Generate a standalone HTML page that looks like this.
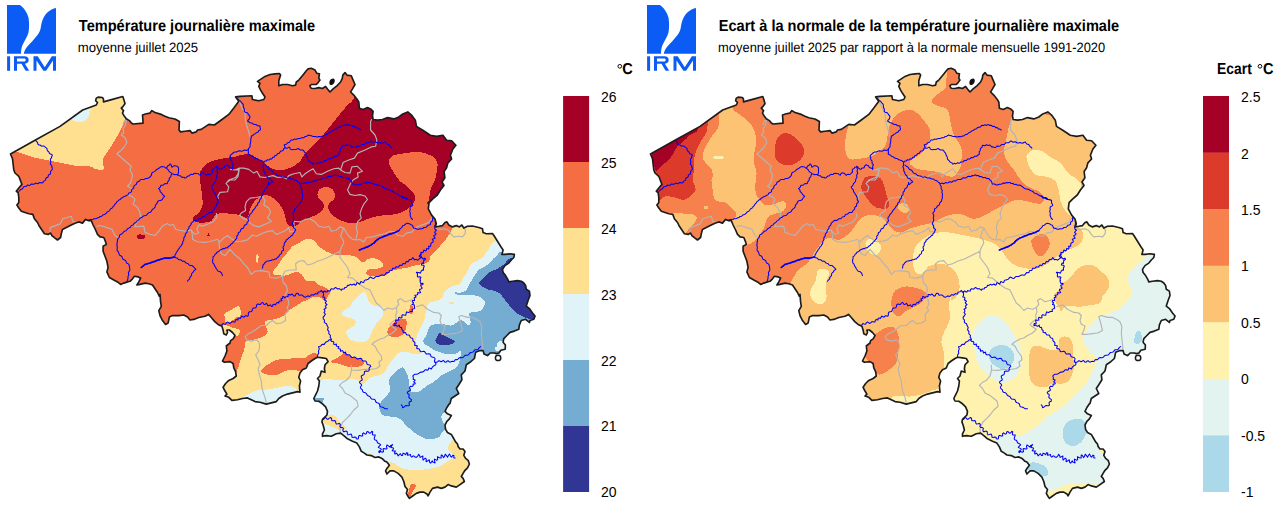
<!DOCTYPE html>
<html><head><meta charset="utf-8"><title>IRM</title>
<style>
html,body{margin:0;padding:0;background:#fff;}
body{width:1280px;height:507px;overflow:hidden;font-family:"Liberation Sans",sans-serif;}
svg{display:block;}
text{font-family:"Liberation Sans",sans-serif;}
.t{font-size:14.6px;font-weight:bold;}
.s{font-size:12.9px;}
.l{font-size:14px;}
.r{fill:none;stroke:#0000f5;stroke-width:1.05;stroke-linejoin:round;stroke-linecap:round;}
.b{fill:none;stroke:#b4b4b4;stroke-width:1.15;stroke-linejoin:round;}
.o{fill:none;stroke:#1c1c1c;stroke-width:1.65;stroke-linejoin:round;}
</style></head><body>
<svg width="1280" height="507" viewBox="0 0 1280 507">
<defs>
<clipPath id="bc"><path d="M10.5,154 35,140.2 60,126.4 82.7,110 96.3,105 97.5,102.5 95.6,100.6 96.3,98.1 98.1,97.1 102.5,97.5 103.5,99.4 103.5,101.9 112.5,99.4 122.8,96.5 124,100 125,103.8 123.1,106.3 121.3,108.1 123.5,110.6 122.5,113.1 124.4,116.3 126.3,118.8 129.4,120.6 131.3,123.1 133.1,124 143.1,123.1 142.5,115 146.3,113.8 150,113.1 151.9,110.6 155,112.5 161.3,114.4 165,116.3 168.8,117.8 175,119 179.4,121.5 179,130 180.6,131.9 185,131.3 190,130.6 191.9,133.1 196.3,131.9 197.5,130 201.3,129.4 205,126.9 208.8,124.4 214.4,125 221.3,120 228.8,114.4 233.8,108.1 238.8,101.3 235.6,96.9 240,96.4 251.9,95.8 252.5,99.5 258.8,100.8 263.8,99.5 265,97 262.5,93.3 260.6,90.1 258.8,86.4 260,83.3 257.5,81.4 261.3,78.9 265,76.4 270,74.5 275,73.9 279.4,73.5 280.6,75.1 278.8,80.8 278.8,85.8 282.5,84.5 287.5,84.5 292.5,85.8 295.6,85.1 296.3,82 298.8,80.1 301.3,77 303.8,73.9 306.3,70.8 308.1,68.9 311.3,68.3 315,70.1 316.9,73.3 319.4,73.9 318.8,78.3 320,80.1 318.1,82.6 316.3,84.5 311.3,84.5 309.8,85.8 311.3,88.3 315,88.5 318.8,87.6 322.5,88.5 325.6,86.4 327.5,88.9 330,92 333.1,88.9 336.9,85.8 340.6,82 342.3,78.3 342.8,75.1 345,72.6 346.9,75.1 351.3,75.8 353.1,80.1 355,84.5 352.5,88.9 350.6,92 353.8,95.1 356.9,98.9 358.8,102 359.4,108.3 363.1,109.5 367.5,107.6 370.6,108.9 373.1,111.4 372.5,115.8 373.1,119.5 377.5,120.1 382.5,119.5 387.5,117.6 393.8,118.9 398.8,117 402.8,113.9 407.8,111.9 411.5,115.1 415.3,120.2 416.5,126.4 422.8,130.2 430.3,135.2 436.6,136.4 442.9,135.2 446.6,140.2 451.6,140.7 455.9,145.2 452.9,149 450.4,155.2 451.6,159 447.9,162.8 446.6,167.8 444.1,171.5 444.9,177.8 442,182 444,185.5 440.4,190 437.3,195 432.8,198.8 429.1,202.6 428.3,208.8 431.6,215.1 435,219 436.3,223.8 435,226.9 438.8,226.3 442.5,225.6 445,222.5 446.9,221.9 448.8,225 452.5,226.9 456.3,225.6 459.4,226.9 461.9,225 463.8,228.1 467.5,226.3 472.5,226 478.8,227.5 482.5,228.8 483.1,232.5 486.3,233.8 492.5,233.5 494.4,236.3 497.5,241.3 500.6,246.3 503.1,250 501.9,254.4 505,254.4 510,253.8 514.4,254.4 513.8,257.5 511.3,260 508.8,263.1 505,265.6 502.5,269.4 503.1,272.5 505.6,275.6 507.5,278.8 508.8,281.9 512.5,281.3 517.5,280.6 521.3,281.3 523.8,283 525.6,285.5 526.3,289.3 529.4,291.1 530,295.5 528.1,300.5 526.3,306.1 529.4,308.6 532.5,313 535,316.1 533.8,319.3 530,320.5 529.4,322.4 525.6,319.3 521.3,320.5 519.4,324.9 518.8,329.3 514.4,331.1 510,332.4 506.9,335.5 503.8,338.6 503.1,342.2 505.4,345 505.2,349.2 500.8,350.2 499,353 496.5,353.6 494.4,353 490.2,353 487.5,355.6 484,354 483.1,350.6 480,350.6 475.6,352.3 474.4,358.5 470,362.3 466.3,364.8 465,371 461.3,374.8 461.9,379.8 458.8,384.8 456.3,388.5 458.8,393.5 455,396 451.3,398.5 450,403.5 449.4,403.8 446.9,407.5 445,411.3 447.5,413.8 451.3,415.6 449.4,418.8 446.9,421.3 445,425 445.6,429.4 447.5,432.5 451.3,434.4 453.1,437.5 455.6,441.9 457.5,444 458.1,446.5 460,449 463.1,449 465,451.5 463.8,455.3 465.6,458.4 468.1,460.3 469.4,464 467.5,467.8 465,470.3 463.1,473.4 461.3,476.5 463.1,478.4 464.4,481.5 460,484.6 456.3,487.1 451.3,485.9 448.1,484.6 445,487.1 441.3,488.4 437.5,487.1 432.5,488.4 430,492.1 428.1,495.9 426.9,494 423.8,492.1 420,492.1 416.3,493.4 411.9,496.5 409.4,498.4 408.1,496.5 406.3,493.4 407.5,489.6 405,486.5 403.8,481.5 401.9,477.1 398.1,473.4 393.8,470.9 390,470.9 386.9,474 385.6,470.9 386.9,468.4 389.4,465.3 386.9,462.1 385,461.3 382.5,458.8 378.8,456.9 375,457.5 371.3,455.6 366.9,455 364.4,453.1 361.3,451.3 359.4,446.9 356.9,443.1 352.5,441.3 347.5,438.8 343.8,435.6 340.6,433.1 336.3,433.8 331.3,436.3 326.3,435.6 322.5,436.3 322.5,433.8 324.4,430 323.1,425 321.9,421.9 322.5,419.4 326.9,415 327.5,411.3 325.6,406.9 322.5,403.8 318.8,401.3 315,401 313.8,398.5 315.6,394.8 317.5,391 318.8,386 319.4,381 317.5,378.5 320,376 321.3,371 325,372.3 324.4,368.5 325,364.8 328.1,361.6 326.3,358.5 322.5,357.9 317.5,357.3 315,358.5 311.3,361 308.1,363.5 306.3,367.9 302.5,369.8 300,372.9 298.8,377.3 300.6,381 299.4,386 300,392.3 297.5,391.6 292.5,392.9 287.5,394.1 282.5,396 278.8,398.5 276.3,401.6 271.3,402.9 266.3,404.1 260,402.3 255,401.6 251.3,399.8 247.5,397.9 242.5,398.5 237.5,399.8 231.9,400.4 228.8,397.3 225,396 226.9,394.1 225,391 223.1,387.3 225.6,383.5 228.8,380.4 233.1,378.5 236.3,376 235.6,371.6 233.8,367.9 233.1,363.5 230,361.6 224.4,362.3 222.5,361 225,356 226.9,351 226.3,346 230,343 230.6,340.6 233.1,338.8 235,335.6 232.5,332.5 229.4,330 226.9,330 227.5,332.5 226.3,335 223.8,333.8 223.1,330 221.9,326.3 218.1,324.4 215,321.9 211.3,317.5 208.5,314.4 205,316.3 198.8,317.5 193.8,319.4 190,320 187.5,316.9 183.8,315 178.8,315.6 172.5,315.6 169.4,316.9 168.1,323.1 165.6,324.4 162.5,320.6 160,315.6 158.8,310.6 161.3,306.3 160.6,301.9 160,294.4 159.4,296.3 157.5,292.5 155,288.8 152.5,285 148.8,283.8 145,283.1 140,284.4 136.9,285 138.8,281.9 140.6,278.1 138.1,276.9 134.4,276.3 132.5,278.8 130,281.3 127.5,281.9 123.8,283.1 120.6,284.4 117.5,281.9 113.8,280 109.4,277.5 106.9,271.9 108.1,267.5 106.9,261.3 105,256.3 103.1,251.3 103.1,246.3 106.3,244.4 105.6,241.9 103.8,237.5 100,236.9 97.5,234.4 95.6,230 93.1,225 91.3,220.6 88.1,220.6 85.6,219.4 82.5,223.1 78.8,221.9 75.6,223.1 71.3,225 66.3,227.5 62.5,229.4 61.3,233.8 60.6,237.5 57.5,240 55,238.1 51.9,235.6 50.6,233.1 48.1,234.4 44.4,233.8 41.9,230 39.4,226.3 37.5,222.5 34.4,218.8 32.8,214.4 28.8,213.8 25,212.5 21.3,211.3 18.8,208.1 16.9,205 18.8,202.5 18.8,197.5 18.1,192.5 16.3,191.3 18.8,188 21.9,184.4 18.8,176.3 15,173 13.8,170 12.5,158.8Z"/></clipPath>
<path id="bo" d="M10.5,154 35,140.2 60,126.4 82.7,110 96.3,105 97.5,102.5 95.6,100.6 96.3,98.1 98.1,97.1 102.5,97.5 103.5,99.4 103.5,101.9 112.5,99.4 122.8,96.5 124,100 125,103.8 123.1,106.3 121.3,108.1 123.5,110.6 122.5,113.1 124.4,116.3 126.3,118.8 129.4,120.6 131.3,123.1 133.1,124 143.1,123.1 142.5,115 146.3,113.8 150,113.1 151.9,110.6 155,112.5 161.3,114.4 165,116.3 168.8,117.8 175,119 179.4,121.5 179,130 180.6,131.9 185,131.3 190,130.6 191.9,133.1 196.3,131.9 197.5,130 201.3,129.4 205,126.9 208.8,124.4 214.4,125 221.3,120 228.8,114.4 233.8,108.1 238.8,101.3 235.6,96.9 240,96.4 251.9,95.8 252.5,99.5 258.8,100.8 263.8,99.5 265,97 262.5,93.3 260.6,90.1 258.8,86.4 260,83.3 257.5,81.4 261.3,78.9 265,76.4 270,74.5 275,73.9 279.4,73.5 280.6,75.1 278.8,80.8 278.8,85.8 282.5,84.5 287.5,84.5 292.5,85.8 295.6,85.1 296.3,82 298.8,80.1 301.3,77 303.8,73.9 306.3,70.8 308.1,68.9 311.3,68.3 315,70.1 316.9,73.3 319.4,73.9 318.8,78.3 320,80.1 318.1,82.6 316.3,84.5 311.3,84.5 309.8,85.8 311.3,88.3 315,88.5 318.8,87.6 322.5,88.5 325.6,86.4 327.5,88.9 330,92 333.1,88.9 336.9,85.8 340.6,82 342.3,78.3 342.8,75.1 345,72.6 346.9,75.1 351.3,75.8 353.1,80.1 355,84.5 352.5,88.9 350.6,92 353.8,95.1 356.9,98.9 358.8,102 359.4,108.3 363.1,109.5 367.5,107.6 370.6,108.9 373.1,111.4 372.5,115.8 373.1,119.5 377.5,120.1 382.5,119.5 387.5,117.6 393.8,118.9 398.8,117 402.8,113.9 407.8,111.9 411.5,115.1 415.3,120.2 416.5,126.4 422.8,130.2 430.3,135.2 436.6,136.4 442.9,135.2 446.6,140.2 451.6,140.7 455.9,145.2 452.9,149 450.4,155.2 451.6,159 447.9,162.8 446.6,167.8 444.1,171.5 444.9,177.8 442,182 444,185.5 440.4,190 437.3,195 432.8,198.8 429.1,202.6 428.3,208.8 431.6,215.1 435,219 436.3,223.8 435,226.9 438.8,226.3 442.5,225.6 445,222.5 446.9,221.9 448.8,225 452.5,226.9 456.3,225.6 459.4,226.9 461.9,225 463.8,228.1 467.5,226.3 472.5,226 478.8,227.5 482.5,228.8 483.1,232.5 486.3,233.8 492.5,233.5 494.4,236.3 497.5,241.3 500.6,246.3 503.1,250 501.9,254.4 505,254.4 510,253.8 514.4,254.4 513.8,257.5 511.3,260 508.8,263.1 505,265.6 502.5,269.4 503.1,272.5 505.6,275.6 507.5,278.8 508.8,281.9 512.5,281.3 517.5,280.6 521.3,281.3 523.8,283 525.6,285.5 526.3,289.3 529.4,291.1 530,295.5 528.1,300.5 526.3,306.1 529.4,308.6 532.5,313 535,316.1 533.8,319.3 530,320.5 529.4,322.4 525.6,319.3 521.3,320.5 519.4,324.9 518.8,329.3 514.4,331.1 510,332.4 506.9,335.5 503.8,338.6 503.1,342.2 505.4,345 505.2,349.2 500.8,350.2 499,353 496.5,353.6 494.4,353 490.2,353 487.5,355.6 484,354 483.1,350.6 480,350.6 475.6,352.3 474.4,358.5 470,362.3 466.3,364.8 465,371 461.3,374.8 461.9,379.8 458.8,384.8 456.3,388.5 458.8,393.5 455,396 451.3,398.5 450,403.5 449.4,403.8 446.9,407.5 445,411.3 447.5,413.8 451.3,415.6 449.4,418.8 446.9,421.3 445,425 445.6,429.4 447.5,432.5 451.3,434.4 453.1,437.5 455.6,441.9 457.5,444 458.1,446.5 460,449 463.1,449 465,451.5 463.8,455.3 465.6,458.4 468.1,460.3 469.4,464 467.5,467.8 465,470.3 463.1,473.4 461.3,476.5 463.1,478.4 464.4,481.5 460,484.6 456.3,487.1 451.3,485.9 448.1,484.6 445,487.1 441.3,488.4 437.5,487.1 432.5,488.4 430,492.1 428.1,495.9 426.9,494 423.8,492.1 420,492.1 416.3,493.4 411.9,496.5 409.4,498.4 408.1,496.5 406.3,493.4 407.5,489.6 405,486.5 403.8,481.5 401.9,477.1 398.1,473.4 393.8,470.9 390,470.9 386.9,474 385.6,470.9 386.9,468.4 389.4,465.3 386.9,462.1 385,461.3 382.5,458.8 378.8,456.9 375,457.5 371.3,455.6 366.9,455 364.4,453.1 361.3,451.3 359.4,446.9 356.9,443.1 352.5,441.3 347.5,438.8 343.8,435.6 340.6,433.1 336.3,433.8 331.3,436.3 326.3,435.6 322.5,436.3 322.5,433.8 324.4,430 323.1,425 321.9,421.9 322.5,419.4 326.9,415 327.5,411.3 325.6,406.9 322.5,403.8 318.8,401.3 315,401 313.8,398.5 315.6,394.8 317.5,391 318.8,386 319.4,381 317.5,378.5 320,376 321.3,371 325,372.3 324.4,368.5 325,364.8 328.1,361.6 326.3,358.5 322.5,357.9 317.5,357.3 315,358.5 311.3,361 308.1,363.5 306.3,367.9 302.5,369.8 300,372.9 298.8,377.3 300.6,381 299.4,386 300,392.3 297.5,391.6 292.5,392.9 287.5,394.1 282.5,396 278.8,398.5 276.3,401.6 271.3,402.9 266.3,404.1 260,402.3 255,401.6 251.3,399.8 247.5,397.9 242.5,398.5 237.5,399.8 231.9,400.4 228.8,397.3 225,396 226.9,394.1 225,391 223.1,387.3 225.6,383.5 228.8,380.4 233.1,378.5 236.3,376 235.6,371.6 233.8,367.9 233.1,363.5 230,361.6 224.4,362.3 222.5,361 225,356 226.9,351 226.3,346 230,343 230.6,340.6 233.1,338.8 235,335.6 232.5,332.5 229.4,330 226.9,330 227.5,332.5 226.3,335 223.8,333.8 223.1,330 221.9,326.3 218.1,324.4 215,321.9 211.3,317.5 208.5,314.4 205,316.3 198.8,317.5 193.8,319.4 190,320 187.5,316.9 183.8,315 178.8,315.6 172.5,315.6 169.4,316.9 168.1,323.1 165.6,324.4 162.5,320.6 160,315.6 158.8,310.6 161.3,306.3 160.6,301.9 160,294.4 159.4,296.3 157.5,292.5 155,288.8 152.5,285 148.8,283.8 145,283.1 140,284.4 136.9,285 138.8,281.9 140.6,278.1 138.1,276.9 134.4,276.3 132.5,278.8 130,281.3 127.5,281.9 123.8,283.1 120.6,284.4 117.5,281.9 113.8,280 109.4,277.5 106.9,271.9 108.1,267.5 106.9,261.3 105,256.3 103.1,251.3 103.1,246.3 106.3,244.4 105.6,241.9 103.8,237.5 100,236.9 97.5,234.4 95.6,230 93.1,225 91.3,220.6 88.1,220.6 85.6,219.4 82.5,223.1 78.8,221.9 75.6,223.1 71.3,225 66.3,227.5 62.5,229.4 61.3,233.8 60.6,237.5 57.5,240 55,238.1 51.9,235.6 50.6,233.1 48.1,234.4 44.4,233.8 41.9,230 39.4,226.3 37.5,222.5 34.4,218.8 32.8,214.4 28.8,213.8 25,212.5 21.3,211.3 18.8,208.1 16.9,205 18.8,202.5 18.8,197.5 18.1,192.5 16.3,191.3 18.8,188 21.9,184.4 18.8,176.3 15,173 13.8,170 12.5,158.8Z"/>
<path id="rv" d="M35.6,140 36.1,141.1 37,141.9 37.7,142.9 37.9,144.2 38.8,145 39.9,144.9 40.7,145.5 41.6,146.2 42.7,146.1 43.8,146 44.6,146.6 45.3,147.1 46.2,147.8 47,148.6 47.1,149.8 47.5,150.8 48.4,151.5 49,152.3 49.5,153.5 50.6,154.1 51.8,154.6 52.4,155.5 51.7,156.5 51.5,157.9 50.6,158.8 50.3,159.8 50.6,160.8 50.9,161.8 50.6,162.8 50.3,163.9 51.1,164.8 51.8,165.8 51.8,167 52.3,167.9 52.3,169.1 51.9,170 51.1,170.8 50.5,171.7 50.6,172.9 50.3,174.1 49.2,174.5 48.4,175.1 48.2,176.3 47.8,177.2 46.7,177.7 45.8,178.3 45.6,179.4 45.3,180.4 44.3,180.9 43.3,181.4 43,182.5 42,183.1 41,182.8 39.9,182.5 38.9,183 38,183.7 36.9,183.4 35.8,183.1 34.8,183.6 33.9,184.2 32.9,184.2 31.7,183.9 30.8,184.5 30,185.3 29,185.4 27.8,185.1 26.9,185.5 26.1,186.4 25.2,186.5 23.9,186.7 23.1,187.6 22.6,188.8 21.5,189.2 20.4,189.6 19.7,190.6 18.8,191.3M220,325.5 221.2,325.4 222.1,324.7 222.9,323.5 224.2,323.9 225.5,324.2 226.3,323 227.3,322.1 228.4,322.6 229.5,323.4 230.5,323.1 231.4,322.2 232,321.6 233.6,322 235,321.9 235.3,320.3 236.3,319.6 237.9,320 238.1,318.4 239.1,318 240.5,318.4 241,317.3 241.8,316.1 242.9,316.7 244,317.2 244.9,316.2 245.8,315.6 247.2,316.3 248.2,315.7 248.4,314.6 248.3,313.2 248.8,312.2 249.9,311.7 251.4,311.6 252.2,310.5 252.5,309 253.3,308.1 254.6,307.9 255.8,307.7 256.4,306.8 256.5,305.4 257.1,304.2 258.3,304.1 259.6,304.4 260.7,304.2 261.3,303.1 262.5,302.5 263.4,303.1 264.1,304.6 265.2,304.3 266.6,303.4 267.3,304.6 268,305.9 269.4,305.2 270.6,304.9 271.5,306.5 272.6,306.3 273,304.4 274.1,304.2 275.7,304.9 276.1,303.3 277,302.6 278.8,303.1 279,301.2 280.3,301 282,300.7 280.8,299 282.7,298.2 282.5,296.7 283.8,296.6 284.9,298 285.7,296.8 287.2,296.7 288.3,296.3 288,294.5 289.4,294.5 290.3,295.2 291.9,294 292.8,294.8 294.1,296.2 295.2,295.8 295.8,294.3 296.6,293.2 298.2,293.4 298.7,294.7 299.5,295.2 300.7,295.1 302,295 302.6,295.4 303.5,296.3 304.4,297.1 305.4,297.2 306.5,296.6 307.2,296.1 308.4,296.1 309.7,296.4 310.6,295.9 311.3,294.8 312.5,294.8 313.6,295.2 314.5,294.3 315.4,293.6 316.5,294 317.8,293.9 317.9,292.3 319.1,291.9 319.9,291.8 321.4,290.4 322.4,292.3 323.8,291.5 324.7,291 325.9,292 326.9,291.9 327.7,290.6 328.7,290.9 330.2,291.1 330.5,289.6 331.2,288.7 332.5,288.9 333.7,289.1 334.7,288 335.7,287.5 336.8,288.3 337.8,289 339.2,288.6 340.2,289.4 341.5,290.2 342,289 343.2,289 344.3,288.8 344.7,287.6 346.1,287.4 347,286.6 347.6,285.3 348.8,285.4 349.8,284.7 350.8,284.3 351.9,285.1 352.9,284.5 353.9,284 355.2,285.2 356.2,284.5 356.8,282.7 358.1,283.1 359.5,284.1 360.3,282.9 360.8,281.5 362.4,282.2 363.8,282.4 364.2,280.8 365.1,280.1 366.2,279.9 367.4,279.6 368.4,279.1 369.1,278.1 370.1,277.1 371.3,277.5 372.5,278.2 373.9,278.4 374.7,277.6 375.5,276.8 376.4,276.5 377.5,276.4 378.6,276.5 379.6,276.1 380.6,275.4 381.6,275 382.7,275.1 384,275.3 385,274.7 385.8,273.7 386.5,272.6 387.9,272.7 389.1,272.3 389.4,270.9 390.3,270.4 391.7,270.5 392.2,269.5 392.6,268.2 393.8,268.2 395.2,268.2 396.1,266.7 397.6,267.1 398.7,267 399.2,265.8 400,265.1 401.3,265.5 402.2,265.1 402.7,263.8 403.6,263.5 405.1,263.7 405.7,262.4 406.5,261.4 408.1,261.7 408.9,260.7 409.4,259.5 410.8,259.5 411.9,259.1 412.7,257.6 413.6,258.3 414.1,259.6 415.3,259.6 416.1,259.4 417.7,260.2 418.8,259.2 419.3,258.8 421,257.5 419.2,256.3 420,255 421.3,254.3 420.9,252.3 423,252.7 423.4,251.4 423.9,250 425.7,251 426.4,250.1 426.7,248.4 428.5,249.1 429.1,248 428.5,246.3 430.7,246.2 430.7,244.8 430.9,243.6 431.6,242.7 433,242.2 433.3,241 432.3,239.3 433.7,238.8 435.2,238.1 434.1,236.6 433.8,235.4 435.7,234.8 436,233.7 434.6,232.6 435.2,231.4 436.5,230.1 435.1,229.2 434.7,228.1 435,226.9M323.8,291.8 323.3,293 323.6,294.3 323.5,295.3 322.8,296.9 324.5,297.3 325,298.3 324.3,299.9 325.9,300.5 326.4,301.4 325.2,302.6 325.7,303.5 327,304.4 326.1,305.4 325.3,306.2 326.2,307.8 325.3,308.5 324,309.2 324.8,310.5 324.8,311.5 324,312.6 324.9,313.5 325.4,314.4 324.7,315.1 324.1,316.2 323.4,316.7 323.1,317.9 323.3,318.9 324.2,319.7 324.5,320.7 324.2,322 325,322.9 326.3,323.4 326.8,324.5 327.1,325.6 327.6,326.5 328.2,327.4 327.9,328.5 327.6,329.6 328,330.5 328.9,331.3 328.9,332.5 328.8,333.7 329.6,334.5 330.4,335.4 330.3,336.4 330.2,337.5 330.9,338.4 331.5,339.7 330.4,339.8 329.2,339.8 328.4,340.6 327.8,341.4 326.6,341.8 325.5,342.2 324.9,343.4 324.2,344.4 322.9,344.3 321.8,344.6 321.1,345.7 320.1,346.2 318.7,346.4 318.7,347.5 319.3,348.7 318.9,349.9 318.4,350.9 318.6,352.1 318.7,353.3 317.9,354.3 317.6,355.4 317.5,356.6M330.5,340 331.1,340.9 331.9,341.5 333.3,341.6 333.8,342.6 333.7,344.2 334.9,344.4 336.4,344.1 336.3,346 337.1,346.3 338.9,346.4 338.1,348.3 339.3,348.9 340.4,349.1 340.5,351.3 342.3,350.6 343.1,351.4 343.5,353 345.5,352.1 345.8,353.8 346.6,354.8 348,354.8 349.4,354.8 350.2,355.6 350.9,356.7 351.7,357.5 352.9,357.4 354.2,357.1 355.1,357.2 356.1,358 357,358.9 358,359.1 359.2,358.6 360.4,358.2 361.6,358.7 362.1,360.1 362.9,361 364.3,361 365.7,361.1 366.6,362 366.8,363.4 367.4,364.4 368.6,364.8 370,365 370.8,366.4 369.7,367.4 369,368.5 369.4,369.7 368.6,371 367.4,371.3 365.9,371 364.5,371.6 364.3,372.8 364.3,374 363.7,374.8 362.6,375.2 361.4,375.9 361.2,376.9 361.6,378 362.3,379.2 361.9,380.2 360.6,380.9 359.5,382 359.9,383.1 361.1,384.1 361.7,385.2 361,386.2 360.3,387.4 360.7,388.4 361.6,389.1 362.4,389.9 362.6,390.9 363.2,392 364.3,392.6 365.5,392.8 366.5,393.6 366.9,394.6 367.5,395.5 368.5,395.9 369.5,396.3 370.2,396.9 370.8,398.2 371.7,399.1 373,399.2 374.3,399.3 375.3,400.1 375.6,401.3 376.1,402.3 377.1,402.8 378.3,403.1 379.2,403.7 379.6,404.8 379.9,406 380.6,406.8 381.8,407.1 382.6,407.3 383.6,407.6 384.5,408.4 385.4,408.8 386.5,408.8 387.5,408.8M420.6,253.8 420.5,255.1 421.3,256.2 421.4,256.7 422.2,258.2 423.2,259 424.8,258.1 425.6,259.2 424.2,260.2 423.7,260.3 423.6,261.9 423.4,263.5 422.1,263 421.4,264.9 423.7,265.3 424.3,266.6 423.7,267.2 423.4,268.6 423.4,270.3 422.3,270.1 421.2,271.2 420.2,273.2 418.8,272.4 416.3,272.2 417.6,273.9 417.5,274.2 417.3,276.1 417.9,277.1 419.8,276.7 420.9,277.2 420.3,278.7 420,278.8 420.5,280.7 420,280.5 420.3,282.5 421,283.4 423.1,283.2 422.9,284.5 420.7,285.2 421.2,286.8 422.2,288.1 421.1,288.9 419.5,289.5 419.7,290.7 420.6,292.6 419.4,292.9 417.6,292.5 417.8,294.5 416.6,294.9 414.8,295.2 416.1,297 414.2,297.8 414.5,299.4 414.4,300.6 412.5,300.5 412.3,301.9 413.6,302.8 412.5,304.6 414.4,304.9 414.3,306.2 414.6,308.2 413.3,308.9 412.1,309.5 412.4,311.5 410.8,311.5 410.3,311.5 408.7,312.5 406.5,311.9 406.1,313.6 405.7,315.3 404.2,315.1 402.5,314.7 401.8,315.6 402,317.7 400.9,317.9 399,317.2 398.5,318.2 398.9,320.1 397.5,320.3 395.6,320.1 395.9,321.9 396.3,323.2 394.2,323.6 393.9,325.7 395.8,324.7 396.2,325.8 397.7,326.3 399.2,325.1 399.5,326.3 400,327.4 401.5,327.4 401.8,328.6 401.9,329.8 403.2,330.5 403,332 403.9,332.7 405.4,332.5 406,333.6 406.5,334.8 407.8,335 409.1,335 409.8,336 410.1,337.2 411,337.9 412.3,338.2 412.9,339.1 412.9,340.5 413.3,341.3 414.7,342.2 414.9,343.5 414.7,345.5 416,345.4 417.5,345.9 416.9,347.1 416.7,348.2 417.7,348.7 418.9,348.8 419.6,349.8 420.2,351.2 421.1,351.8 422.5,351.6 423.8,351.2 424.8,351.7 425.4,352.9 426.2,353.9 427.2,354 428.7,353.8 430,354 430.6,355.2 431.1,356.6 431.9,357.1 433.2,357.3 434.4,357.7 435,358.5 434.9,359.8 434.4,361 434.7,362 435.8,363 435.9,364.2 435.5,365.1 434,365.5 433.6,366.1 432.7,366.7 432,367.7 431.4,368.9 429.9,368.3 428.7,368.1 428.2,369.8 427.2,370.2 425.8,369.6 424.8,370.1 424.1,371 423.2,371.8 422.1,372.1 420.9,372.1 419.9,372.5 418.8,373.3 417.7,374.1 416.4,374.3 415.2,374.3 414.2,374.6 413.4,375.4 412.8,375.9 413.3,376.9 413.3,378.1 413.1,379.3 415.1,380.1 413.8,381.9 415.3,383.2 414.8,384.1 413,384 413.2,385.6 412.3,386.5 410.4,386.3 409.4,387.7 410.4,389.4 410.1,390.6 408.3,391.4 407.2,392.4 407.8,393.8 409,394.2 409.2,395.3 408.9,396.9 408.9,397.5 410.1,398.6 411.4,399.6 411.2,401.2 409.4,402 409,403.3 409.5,405.1 408.6,405.8 407.4,405.7 406.1,405.5 405.1,406 404.2,407 402.6,407.7 402.3,406.6 402,405.6 401.3,404.8M435.6,362.3 436.8,362.2 437.8,361.6 438.7,360.7 440,361.1 441,361.8 442.1,361.3 443.2,360.4 444.2,361.1 445.2,362.3 446.3,362.1 447.3,360.9 448.4,360.8 449.4,362 450.4,362.1 451.5,361.4 452.3,361.2 453.5,361.4 454.5,361.1 455,359.9 455.9,359.5 457.2,359.8 458,359.2 458.7,358.3 459.6,357.7 460.7,357.6 461.9,357.7 463,357.4 463.8,356.6 464.6,355.7 465.6,355.3 466.9,355.2 468,355 468.9,354.3 469.6,353.2 470.6,352.5 471.9,352.3 473.1,352 473.9,351.2 474.6,350.1 475.6,349.7 477,349.8 478,349.5 478.7,348.4 479.5,347.4 480.6,346.6M321.9,419.4 323.1,419.5 324.1,418.8 324.8,417.2 326.3,418.1 327.2,419.3 328.2,419.2 329.4,418.1 330.5,417.5 331.6,418.5 331.6,420.3 332.7,420.9 334.6,420.5 335.5,421.1 335.8,422.9 336.4,424.1 338,423.8 339.6,423.4 340.4,424.8 339.8,426.5 340.6,427.4 342.4,427.6 343.4,428.4 342.9,430.2 343.3,431.6 344.6,431.6 346.3,431.1 347.2,431.7 347.3,433.4 347.9,434.7 349.5,434.5 351.1,434.1 351.8,435.3 352,437.1 353,437.6 354.7,437.1 356,437.2 356.3,438.8 357.9,439.1 358.5,438 358.6,436.2 359.5,435.5 361.3,436.1 362.6,436 362.6,433.7 363.5,432.9 365.2,434.1 366.2,433.7 366.9,431.8 368,431.6 369.4,433.2 370.4,433.1 371.9,431.3 372.8,431.9 372.3,434 372.9,435 375.2,434.9 375.1,435.9 374.6,437 374.2,438.1 374.4,439.1 375.1,439.9 376.4,440.3 377,441.4 377.5,442.8 378.4,443.2 379.7,443.9 380.6,444.8 379.3,446.2 378.3,447.4 379.7,448.1 381.4,449.1 380.8,450.1 378.9,451.1 378.8,452.1 379.6,452.7 380.1,451.3 382.4,452.2 383.5,451.6 383,449.2 383.8,448.5 385.8,449.1 387,448.7 386.5,446.7 387,444.9 388.4,445.9 389.9,447 390.5,445.8 392.5,444.6 391.6,446 390.9,447.4 393,447.8 393.5,448.7 392.2,450.7 393.6,451 395.4,451 394.5,453 395,454 396.4,453.2 397.3,454.2 398.1,455.9 399.3,454.6 400.4,453.7 401.5,455.6 402.6,455.5 402.9,453.2 404.2,453.6 405.8,454.7 406.5,452.7 407.8,452.9 407.5,455.3 409,455.1 410.3,454.4 410.9,456.4 411.8,457.1 413.1,455.9 414.1,456.1 415.1,457.1 416.2,457.4 417.1,456.8 417.9,455.7 418.6,454.2 419.7,455.9 420.1,457.4 422.9,456 422.8,458.1 423.1,460.1 425.3,458.2 426.2,459 426.1,461.8 427.8,460.8 429.2,459.7 429.7,462.4 430.6,463.1 432.4,460.8 432.8,462.1 435.1,462.9 434.5,460.7 434.4,459.1 436.9,460.3 437.7,459.5 437.4,456.7 439.5,457.8 441.1,458.1 441.2,455 442.2,455.3 443.5,457.6 444.5,456.4 445.2,454.2 446.5,455.7 447.5,457.3 448.5,455.3 449.5,454 450.5,456.1 451.5,457.2 453,455.1 454,455.8 453.7,457.7 455,458.1M87.5,220.2 88.6,220.2 89.7,219.7 90.8,219.4 92,219.6 93.1,219.3 94.1,218.7 95.3,218.7 96.4,218.6 97.4,217.8 98.5,217.8 99.4,217.3 100.1,216.4 101.2,216.4 102.1,215.9 102.7,215 103.7,214.7 104.7,214.4 105.6,213.8 106.3,213.1 106.9,212.2 107.8,211.6 108.8,211.2 109.5,210.5 110.1,209.5 110.8,208.7 111.8,208.3 112.6,207.5 113.1,206.5 114.1,205.9 114.5,204.8 115.3,203.9 116.2,203.2 116.6,202 117.6,201.4 118.3,200.7 119,199.9 120.1,199.6 120.8,198.7 121.6,198 122.6,197.7 123.4,196.8 124.5,196.5 125.6,196.1 126.4,195.3 127.6,195.1 128.3,194.3 128.7,193.2 129.7,192.7 130.8,192.3 131.5,191.4 131.6,190.3 132,189.3 132.9,188.7 133.7,187.9 133.8,186.8 134.3,185.6 135.4,184.9 136.4,184.2 136.8,182.9 137.4,182 138.4,181.5 139.5,181 140,180.1 141,179.6 142.1,179.5 143.2,179.6 144.2,179.3 145.2,178.8 146.2,178.6 147.4,178.4 148.5,178 149.5,177.3 150.4,176.8 150.9,175.9 151.4,175.1 151.7,174.1 151.8,173 152.7,172.3 153.8,171.9 154.8,171.4 155.6,170.6 156.3,169.8 157.1,169.3 158.1,168.8 158.9,168.3 159.7,167.6 160.6,167 161.5,166.7 162.4,166.6 163.4,166.8 164.5,166.9 165.3,167.7 166.5,168.3 167,167.2 167.5,166.1 168.6,165.6 169.6,164.9 170,163.8 171,164.6 171.4,165.8 172,167.2 173,166.6 173.9,165.8 174.9,165.8 176,166 177.1,166.3 177.9,166.9 178.6,167.9 178.6,169.1 178.4,170.2 178.5,171.2 178.5,172.6 178.2,173.9 177.5,174.8 176.5,174.4 175.3,174.6 174.1,174.6 173,174.1 172.1,173.6 171.3,172.9 170.3,172.4 169.4,171.8 168.8,170.8 168.3,169.8 167.2,169 166.3,168.1M171.9,173.8 171.3,174.7 171,175.8 170.7,176.9 169.7,177.7 169.2,178.7 169.2,180 168.5,180.9 167.7,181.8 167.5,183.1 166.6,183.7 165.4,183.6 164.3,184 163.5,184.9 162.4,185.2 161,185.3 160.5,186.6 159.7,187.7 158.5,188.7 159.4,189.4 160,190.3 160.1,191.4 160.7,192.2 161.5,192.8 162.2,193.7 162.7,194.7 163.5,195.5 164.6,196.2 163.9,197.3 162.9,198.1 162.5,199.2 161.6,200.1 160.6,200.5 159.4,200.6 158.4,201 157.5,201.8 157.3,202.9 156.6,203.9 155.8,204.7 155.3,205.7 155.1,206.9 154.5,207.9 153.6,208.6 152.6,209.2 151.9,210.1 151.4,211.2 150.7,212 149.7,212.4 148.6,212.8 147.8,213.4 147.2,214.3 146.4,215.2 145.4,215.5 144.2,215.7 143.2,216.2 142.4,217 141.5,217.6 140.4,218 139.5,218.7 138.9,219.8 138,220.4 137,220.9 136.4,221.9 135.6,222.7 134.5,223.1 133.7,223.9 133.1,224.9 132.1,225.4 131.1,225.9 130.6,226.8 129.9,227.6 129,228 128,228.4 127.3,229.1 126.7,230 126,230.7 125,231.1 124,231.5 123.3,232.3 122.6,233.2 121.8,233.9 120.8,234.3 119.8,234.9 119.5,236 119.3,237.1 118.6,238 117.8,238.9 117.4,240 117.6,241 117.1,242 117.1,243 117.2,244 116.7,245 117.1,246 117.3,247.1 117.3,248.1 117,249.2 117.1,250.3 117.6,251.2 118.5,252 118.9,253.1 119.1,254.3 119.7,255.2 120.9,255.8 121.8,256.5 122.3,257.6 122.7,258.8 123.6,259.6 124.7,260 125.5,260.6 126,261.5 126.4,262.6 127.1,263.3 128.2,263.8 128.9,264.5 129.3,265.5 129.3,266.7 129.6,267.4 129.7,268.5 129.9,269.6 129.6,270.6 129,271.5 128.4,272.4 128.5,273.5 128.8,274.5 128.5,275.5 128,276.5 128,277.5 128,278.6 127.6,279.6 127.3,280.6M177.5,175 178.4,175.5 179.4,175.8 180.4,175.8 181.2,176.6 182,177.4 183.1,177.3 184.2,177.3 185,178.1 186.2,177.8 186.9,176.7 187.9,176 189.2,175.9 190,175 190.9,174.3 192.1,174.5 193.2,174.4 194.1,173.4 195.2,173.2 196.1,173.4 197.2,173.6 198.3,173.7 199.1,174.6 200.3,175.3 200.7,174 201.5,173.2 202.3,172.8 203.4,173.1 204.6,173.4 205.2,174.5 206.4,175.3 207.2,174.5 208.3,174.3 209.4,174.6 210.3,174.2 210.9,173.7 211.6,172.8 212.5,172 212.4,170.8 212.3,169.6 213.2,168.9 214.2,168.4 214.8,167.3 216,167 216.8,166.4 217.9,166.9 218.2,168.1 219.3,168.6 219.9,169.2 221.1,169.2 221.8,168.3 222.8,167.9 224.1,167.7 224.5,166.3 225.3,165.3 226.1,164.7 227.2,165.2 228.4,165.7 229,166.8 229.8,167.8 230.9,168 231.9,168.5 232.6,169.4 233,168.3 232.6,167.2 232.7,166.1 233.4,164.9 232.8,164 232,163.1 232.1,162 232,160.9 231.1,160.1 230.7,158.8 230.7,157.4 230,156.3 230.4,155.3 231.1,154.6 232,154 232.6,153.3 233.5,152.7 234.4,152.1 235.5,152 236.6,152 237.5,151.6 238.5,150.9 239.6,150.7 240.7,151 241.7,151.3 242.8,150.9 243.7,150.3 244.9,150.1 246.2,150.4 247.4,150.1 248.2,149.5 248.7,148.3 249.7,147.4 250.2,146.3 250,145 250.2,143.8 250.6,142.5 250.8,141.3 250.8,140.3 250.7,139.3 251,138.3 251.4,137.3 251.2,136.1 252.2,135.7 253.1,135.2 253.7,134.2 255,134 255.9,133 257,132.5 258.2,132 258.7,130.7 260.1,130.1 260.5,128.8 260,127.6 260.1,126 258.8,125.8 257.4,125.8 256.4,124.7 255.4,124.4 254.2,124.5 253.3,124 252.4,123.3 251.4,123 250.3,122.8 249.3,122.3 248.6,121.5 247.6,121.3 247.9,120.2 249,119.5 249.4,118.4 249.8,117.6 249.9,116.4 249.2,115.4 248.6,114.7 248,113.7 247.3,112.8 246.3,112.4 245.1,112.2 244.1,111.3 244.4,110 244.2,108.7 243.5,107.6 243.3,106.5 243.4,105.2 243,104.1 242.3,103.3 241.4,102.4 240.6,101.2 239.4,100.6 238.4,99.7 237.8,98.5 236.9,97.5M216.9,166.3 216.9,167.3 217.1,168.4 217.5,169.4 217.2,170.4 217.1,171.5 217.6,172.5 217.6,173.6 216.9,174.6 216.6,175.6 216.9,176.7 216.7,177.8 216,178.7 215.7,179.8 215.6,181 215.1,182 214.2,182.9 213.4,183.8 213,185 212.3,186.1 211.2,186.9 211.5,188 212.3,188.8 213.1,189.6 213.5,190.7 213.7,191.9 214.5,192.8 215.1,193.8 215.5,194.9 216.5,195.7 216.7,196.8 217.2,197.8 217.4,198.8 217.2,199.9 218,200.8 218.5,202 217.5,202.8 216.7,203.6 216.7,204.9 216.5,206 215.4,206.7 214.7,207.6 214.7,209 213.9,209.9 212.8,210.6 212.5,211.8 211.6,212.6 210.5,212.5 209.4,212.5 208.5,213.2 207.8,213.9 206.7,214.2 205.6,214.5 205,215.5 204.4,216.5 203.3,216.8 202.3,217 201.5,218 200.7,218.8 199.4,218.8 198.3,219.1 197.6,220.1 196.5,220.5 195.2,220.2 194.1,220.6 193.4,221.3 192.6,222 191.7,222.7 191,223.6 190.9,224.8 190.2,225.6 189.2,226.4 188.9,227.5 188.8,228.7 188,229.5 187.2,230.3 187.1,231.5 186.8,232.5 185.9,233.3 185.2,234.2 185.3,235.5 184.8,236.6 183.9,237.6 183.8,238.8 183.8,239.9 183.3,240.8 182.7,241.7 182.7,242.8 182.6,243.9 181.7,244.5 181.3,245.5 180.8,246.4 179.9,247 179.5,248 178.9,248.9 178,249.7 177.7,250.9 176.8,251.8 176.2,252.8 175.8,253.9 175,254.8 174.9,255.9 174.4,257 173.2,257 172.2,257.7 171.1,257.8 170,258 169,258.3 168,258 167,258 166,258.3 165,258.1 164,258.2 163.1,258.8 162,258.8 161,259 160.1,259.8 159.1,260 157.9,259.9 156.9,260.2 156,261 155.1,261.7 154.1,261.8 152.9,261.8 151.9,262 151,262.8 150.1,263.3 149,263.3 147.9,263.4 147,264.1 146,264.2 144.8,264.2 144.2,265.3 143.2,266 142.2,266.7 141.3,267.5M174.4,256.9 175.2,257.5 176.2,257.9 177.2,258.1 177.9,258.9 178.7,259.7 179.8,259.7 180.9,259.8 181.7,260.7 182.7,261.2 183.9,261.1 184.9,261.7 185.6,262.8 186.8,263.2 188,263.5 188.7,264.6 189.6,265.3 190.8,265.5 192,265.5 192.9,266.3 193.7,267 194.3,267.8 195.2,268.4 195.8,269.6 194.7,270 193.9,270.8 193.5,271.9 192.6,272.5 191.7,273.5 191.6,274.7 191.3,275.9 190.4,276.8 189.8,277.6 189.6,278.8 188.9,279.6 188,280.4 187.5,281.3M248.5,149.6 248.3,150.6 248.3,151.7 248.5,152.8 248.1,153.9 248.9,154.6 250.1,154.9 251,155.6 251.8,156.5 252.9,156.8 253.9,157.3 254.8,158.1 255.8,158.5 257,158.5 257.9,159.1 258.9,159.8 260,160.1 261,160.4 262,160.8 262.8,161.5 263.9,162.1 264.9,161 266.4,161 267.1,159.8 268.4,160 269.4,159.7 270.1,158.7 271.5,159.1 272.2,158.2 272.7,157.2 274.1,157.2 274.6,156.2 275.3,155.4 276.5,155.3 277.1,154.4 277.7,153.4 279,153.4 279.7,152.7 280.2,151.6 281.1,151 282.5,150.8 283.4,149.9 283.8,148.6 285,147.8 286.3,148.3 287.6,147.9 289,147.1 289.9,147.9 290.4,149.1 291.4,149.6 292.5,149.8 293.4,149.5 294.5,149.5 295.6,149.6 296.5,149.2 297.6,148.6 298.6,148.8 299.6,149.5 300.6,150 301.7,150 302.8,150 303.8,150.6 304.1,151.6 304.8,152.3 305.5,153.1 305.8,154.1 306.1,155.1 306.7,156 307.2,156.9 307.3,158 307.5,159.1 308.2,159.9 309.1,160.6 309.7,161.7 310.6,162.4 311.9,162.7 312.5,164 313.6,163.9 314.6,163.2 315.7,163.7 316.7,163.4 317.7,162.8 318.9,163.3 319.9,162.9 320.7,161.9 321.9,161.9 323.1,161.8 323.9,160.8 324.9,160.4 326.1,160.6 326.9,159.9 327.7,159 328.8,159.1 329.8,159 330.6,158.1 331.4,157.5 332.6,157.7 333.6,157.3 334.4,156.3 335.7,156.3 336.8,156.2 337.6,155.1 338.6,155 339.4,154.1 339.3,153 339.1,151.9 339.9,151 340.3,150.2 340.3,149 340.7,148.1 341.8,147.5 342.2,146.6 342.5,145.2 343.5,145.4 344.6,145.8 345.6,145.2 346.7,144.8 347.8,145.4 348.7,145.2 350,145.1 350.8,146 351.6,146.9 352.9,146.8 353.7,147.3 355,147.6 355.9,147.1 356.8,146.2 357.8,145.9 359,146.2 360.1,146 361,145 361.9,144.4 363.2,144.5 364.4,144.4 365.2,143.5 366.1,142.7 367.3,142.7 368.4,142.8 369.4,142.2 370.2,141.3 371.4,141 372.3,141.7 373.2,142.2 374.3,142 375.4,141.8 376.3,142.3 377.3,143 378.3,143.1 379.3,142.7 380.4,142.5 381.3,143.1 382.6,143.3 383.8,142.5 385.3,141.9 385.9,143 386.7,143.9 387.9,144.2 389,144.8 389.4,145.9 390.2,146.7 391.2,147.3 391.9,148.1M285,148.1 284.9,147 284.6,146 284.2,144.7 285.3,144.6 286.3,144.3 287,143.4 287.8,142.7 288.9,142.6 289.8,141.9 290.3,140.6 291.3,139.9 292.4,140.1 293.4,139.7 294.3,139.1 295.4,139.2 296.5,139.2 297.5,138.7 298.5,138.4 299.6,138.5 300.7,138.2 301.7,137.7 302.8,137.8 303.9,137.7 304.7,136.8 305.8,136.5 306.9,136.2 307.7,135.4 308.8,134.9 310,135.6 311.3,135.7 312.5,136.3 313.5,136.6 314.5,136.4 315.5,136.5 316.5,136.9 317.5,137 318.5,136.6 319.5,136.6 320.5,136.8 321.5,136.4 322.4,136.1 323.6,136 324.5,135.4 325.4,134.6 326.5,134.4 327.6,133.9 328.4,133 329.5,132.6 330.6,132 331.4,131.1 332.5,130.7 333.6,130.2 334.4,129.4 335.5,129.1 336.6,128.8 337.3,127.8 338.3,127.2 339.7,127.3 340.7,126.7 341.4,125.6 342.5,125.2 343.6,125.6 344.6,124.8 345.6,124.9 346.7,125.4 347.7,124.6 348.8,124.7 349.7,125.5 351,125.2 351.9,125.8 352.8,126.6 354.1,126.2 355,126.9 355.7,127.7 356.9,127.5 357.8,128.1 358.4,129.1 359.6,129 360.4,129.5 361.3,130M263.8,161.9 263.5,162.9 263.5,163.9 263.7,164.9 263.2,165.9 262.8,167 263.5,168 263.9,169.1 263.6,170.3 264,171.4 264.7,172.3 265,173.5 265.4,174.7 266.4,175.4 267.1,176.4 267.3,177.8 268.4,178.2 269.6,178.5 270.3,179.4 271,180.2 272.1,180.9 272.7,182.1 271.3,182.5 270.5,183.6 269.1,184.5 268.5,182.4 268.7,183.5 268.4,184.5 267.6,185.3 267.3,186.1 267,187.4 266,188.2 264.9,188.9 264.5,190.1 264.3,191.1 263.4,191.9 263,192.9 263.1,194.1 262.7,195.1 261.7,195.9 261.4,197 261.3,198.2 260.4,199 259.7,199.8 259.6,201 259.2,202 258.3,202.6 257.6,203.5 257.6,204.6 257,205.5 256.1,206.1 255.6,207.1 255.1,208 254.5,208.9 253.7,209.6 253,210.3 252.5,211.3 252,212.3 251.3,213.1 250.5,213.8 249.8,214.7 249.4,215.7 248.9,216.6 248.1,217.4 247.9,218.5 248.1,219.6 248.5,220.7 248,221.7 247.1,222.4 246.9,223.7 246.3,224.6 245.1,225 244.2,225.7 243.9,226.9 243.4,228 242.3,228.5 241.2,229 240.7,230.1 240.4,231.2 239.5,232.1 238.4,232.8 238.2,234 237.9,235.1 236.7,236.1 236.9,237.6 236.4,238.9 235.4,239.5 234.9,240.6 234.1,241.4 233.1,242.1 232.6,243.3 231.6,243.8 230.7,244.4 230.2,245.5 229.1,246 228.2,246.7 227.6,247.7 226.4,247.7 225.4,248 224.5,248.7 223.3,248.6 222.3,249 221.4,249.6 220.3,249.9 219.5,250.6 218.8,251.5 217.7,251.8 216.8,252.5 216.3,253.5 215.2,254.1 214.7,255.2 214,256.1 212.9,256.9 213.1,257.9 213,258.9 212.5,259.9 212.6,260.9 212.7,261.8 212.8,262.9 213.5,263.7 214.2,264.4 214.4,265.5 214.9,266.4 215.8,267.3 216.1,268.6 217,269.5 217.5,270.5 218.3,271.3 219.5,271.4 220.4,272 221.1,272.6 221.8,273.5 222.1,274.6 222.5,275.6M265,165 265.8,165.8 266.7,166.5 267.8,166.9 268.4,167.8 269,168.9 269.8,169.6 271,170 271.9,170.6 272.5,171.6 273.1,172.6 274,173.2 275.1,173.5 276.1,174 276.9,174.9 277.8,175.6 279,175.8 280.1,175.9 281.1,176.3 282.1,176.9 283.1,177.3 284.2,177.1 285.3,177 286.3,177.5 287.3,178 288.4,178 289.5,177.9 290.4,178.3 291.4,178.9 292.5,178.9 293.6,179.1 294.5,179.9 295.4,180.4 296.6,180.6 297.4,181.4 298.3,182.2 299.3,182.8 300,184 301,183.6 301.9,183.1 303,183.6 304.1,183.6 305,182.9 306,182.5 307.1,182.9 308.2,182.8 309.1,182 310.2,181.8 311.4,182.2 312.4,181.8 313.3,180.9 314.3,180.8 315.6,181 316.5,180.4 317.4,179.7 318.5,179.4 319.6,179.5 320.8,179.5 321.7,178.8 322.6,178.1 323.7,177.8 324.9,178 326,177.9 326.9,177.2 327.8,176.5 328.9,176.3 330.1,176.6 331.2,176.4 332.1,175.4 333.4,175.7 334.5,175.3 335.7,174.7 336.4,175.7 337.5,175.5 338.6,175.6 339.3,176.6 340.3,176.6 341.4,176.5 342.3,177.2 343.2,177.7 344.3,177.5 345.4,177.6 346.2,178.3 347.5,178.6 348.9,178.6 349.7,179.6 350.4,180.3 351.2,181 351.7,181.9 351.9,183 352.4,184.1 353.5,184 354.6,184 355.5,184.5 356.4,185 357.5,185.1 358.5,184.5 359.5,184.2 360.7,184.2 361.8,184 362.7,183.2 363.8,182.9 364.9,183.4 365.8,182.8 366.8,182.4 367.8,183 368.8,182.6 370,182.4 370.8,183.4 371.9,183.6 373.1,183.3 373.9,184.3 375,184.6 376.1,184.2 377.1,185 378.1,185.2 379.2,185 380.3,185.3 381.2,185.7 382,186.5 383.1,187.2 383.8,187.9 384.8,188.5 385.8,188.9 386.9,189 388,189.2 389,189.6 389.9,190.2 390.9,190.7 392.1,191.1 393.1,191.7 393.9,192.6 394.9,193.3 396,193.5 397.1,193.9 398,194.6 398.9,195.3 400,195.6 401.1,195.8 402.1,196.3 403.1,197 404.1,197.4 405.3,197.5 406.5,197.8 407.3,198.6 408.1,199.4 409.2,199.7 410.4,199.8 411.6,200.5 411.5,201.7 411.5,202.9 412.2,203.9 412.8,205.2 411.8,206.1 410.5,206.8 409.9,208.1 410.3,209.2 410,210.3 409.7,211.4 410.1,212.5 410.4,213.5 410.1,214.5 410.1,215.5 410.6,216.5 410.8,217.3 411.5,218.5 412.5,219.4M300,183.8 300.2,184.9 300.7,185.8 301.3,186.8 301.1,188 301.3,189 302.1,190 302.2,191 301.9,192.1 302.1,193.2 302.6,194.2 302.4,195.3 302.2,196.3 302.5,197.6 302.1,198.8 301.7,199.9 301.5,201.1 300.7,202 299.7,202.8 299.6,204.1 299,205.2 297.8,205.6 297.1,206.4 296.8,207.5 295.9,208.1 294.7,208.7 294.5,209.8 294.6,210.9 293.9,211.8 293.1,212.6 292.9,213.8 293.5,214.8 293.8,215.7 293.6,216.8 293.3,217.9 293.5,218.7 293.6,219.8 293.6,220.9 293.1,221.8 292.5,222.7 292.3,223.9 293.1,225 293.6,226.2 293.6,227.6 294.2,228.5 295.2,229.1 295.7,230 294.8,230.9 294.6,232.1 293.7,233 293,233.9 292.6,235.2 291.5,235.6 290.7,236.4 290,237.3 288.8,237.7 288.1,238.7 287.3,239.4 286.1,239.9 286,241.1 285.4,242 284.4,242.8 284.2,244 284.2,245.1 283.8,246 283.1,246.9 283.1,248 283.5,249 283.5,250.2 282.3,250.9 281.6,251.8 281.5,253.2 280.8,254.1 279.7,254.7 279.2,255.7 278.7,256.7 277.7,257.2 277,258 276.4,259 275.2,258.9 274.2,259.5 273.2,259.8 272,259.8 271.1,260.5 270,260.5 268.8,260.9 267.5,261.1 266.2,261.2 265.7,262.4 264.5,263 264,264.2 263,265 262.8,266 262.8,267.1 262.5,268.1M359.4,250 360.5,249.7 361.4,249.1 362.4,248.5 363.6,248.6 364.7,248.2 365.5,247.3 366.7,247.1 367.9,247.1 368.8,246.2 369.6,245.4 371,245.3 371.9,244.5 372.6,243.4 373.9,243.2 374.8,242.6 375.1,241.4 375.7,240.6 376.8,240.2 377.7,239.8 378.6,239 379.3,238.1 380.4,237.6 381.6,237.6 382.6,237.3 383.5,236.4 384.4,235.7 385.6,235.6 386.9,235.6 387.8,235 388.7,234 389.7,233.8 390.9,234 392,233.9 392.9,233.1 393.9,232.6 395,232.6 396,232.2 396.8,231.4 397.8,231 398.9,230.7 399.5,229.8 400.1,228.8 401,228.1 401.8,227.4 402.3,226.4 403,225.5 404.1,225.2 404.9,224.7 405.7,223.9 406.6,223.6 407.4,223.3 408.6,223.5 409.8,223.9 410.7,224.7 411.9,225 412.7,225.9 413.1,227.1 413.8,228.2 414.8,228.2 415.8,228.5 416.7,229.1 417.7,229.3 418.8,229.3 419.8,228.8 420.9,228.8 422,228.9 423,228.3 423.9,227.5 424.9,227.4 426.2,227.2 427,226.3 427.8,225.3 429,225 430.3,224.6 430.5,223.5 430.7,222.4 431.4,221.7 432.3,221.1 432.7,220 432.4,218.9 432.7,217.9 432.9,217.1 433.9,218 434.9,218.8 435.7,220 435.3,221.1 435.3,222.3 435.5,223.5 435.3,224.6 435,225.7 435,226.9M398.8,195 399.7,195.7 400.9,196.1 401.9,196.7 402.6,197.7 403.8,198.2 404.9,198.1 405.9,198.8 406.8,199.4 408,199.3 409,199.6 410,200"/>
<path id="rw" d="M174.4,256.9 170,258.1 165,258.1 160,259.4 155,261.3 150,263.1 145,264.4 141.3,267.5M359.4,250 362.5,248.8 368.8,246.3 373.8,243.1 377.5,239.4 382.5,236.9 388.8,234.4 395,232.5 398.8,230.6"/>
<path id="pb" d="M122.8,125 124.6,120.5 126.3,120 125.6,125 123.1,128.8 123.8,132.5 121.3,135 125,137.5 126.9,142.5 123.8,147.5 120,151.3 116.9,153.8 121.3,157.5 126.9,162.5 131.3,166.3 130,170 132.5,175 131.3,180 130.6,183 127.5,186.1 132.5,189.3 128.1,194.9 132.5,196.8 135,199.3 133.1,204.3 137.5,207.4 140,212.4 140.6,216.8 137,222 134.4,226.8M50.1,235 50.1,227.6 60.2,223.9 62.7,218.8 71.4,216.3 72.7,221.4 77.7,223.1M96.5,226.4 100,225.5 106.3,227.4 111.9,229.3 115,235.5 118.8,238M134.4,226.8 143.8,226.1 145,232.4 150,234.3 155,235.5 158.8,231.1 162.5,226.1 167.5,223.6 170,225.5 173.1,224.3 175.6,229.3 180,230.5 186.3,231.1 191.3,229.9 192.5,235.5 192.5,239.3 197.5,241.8 203.8,242.4 208.8,241.8 213.8,240.5 217.5,239.3 220,241.8 223.8,238 227.5,235.5 231.3,238.6 235,241.1 237.5,241.8 242.5,241.1 247.5,239.9 250,237.5 252.5,235 256.3,236.3 261.3,233.8 266.3,231.9 272.5,230.6 276.3,234.4 281.3,232.5 286.3,230 288.8,227.5 290,231.9 294.4,231.3 293.8,221.3 300,221.9 305,219.4 310,218.8 315,221.9 318.8,226.3 325,227.5 328.8,226.3 331.3,231.3 336.3,230 340,226.9 343.8,228.1 346.3,232.5 348.8,236.3 352.5,239.4 356.3,240 360,239.4 363.8,241.9 366.3,237.5 372.5,236.9 378.8,235 385,233.8 390,231.3 395,231.9 397.5,235.3 403,236.3 406.3,233.1 412.5,231.9 413.8,228.8 418.8,226.3 423.8,224.4 428.8,222.5 432.5,217M237.5,98 240,103 242,108 245,113 245.6,121.3 246.9,126.3 248.8,131.9 250,136.9M226.3,183 228.8,180 235.6,177.5 238.1,173.8 238.8,170 235,170 230,169.4M225.6,183 228.8,186.8 227.5,191.8 220,192.4 217.5,196.8 218.8,198.6M216.3,213 216.9,216.8 213.1,221.8 207.5,224.3 202.5,226.1 198.8,224.9 196.9,229.3 198.8,233 195,234.3 191.9,231.1M230,169.4 235,170 239.4,168.1 243.8,168.1 248.8,169.4 253.8,173.1 256.9,171.3 260,176.9 265,177.5 270,176.3 273.1,175.6 277.5,177.5 282.5,176.9 286.3,178.8 288.8,175.6 293.8,173.8 300,172.5 301.9,176.9 305,173.8 310,170.6 313.1,168.8 316.3,173.8 321.3,174.4 327.5,171.3 333.8,168.8 338.8,168.1 340.6,170 343.1,162.5 348.8,160 354.4,158.1 357.5,153.1 365,150 371.3,146.9 375.6,146.3 376.9,140 375,135 370.6,130 370.6,121.3 372,119M239.4,168.1 238.1,176.3 235,180 230,180 226.3,183M340.6,170 345,172.5 350,173.1 351.9,166.9 357.5,166.3 362.5,171.3 357.5,173.1 358.1,176.9 353.1,180 350,184.4 347.5,190 350,194.4 355,195.5 360,194.6 365,196 367.5,199.5 364,203.8 361.5,208.8 360,213.8 361.3,218.1 357.5,221.9 356.3,227.5 357.5,232.5 356.3,237.5 356,240M250,198.1 256.3,197.5 262.5,196.3 265,200.6 263.8,205 268.8,208.1 270.6,212.5 267.5,217.5 271.3,221.3 266.3,223.8 258.8,226.9 253.8,225.6 250,223 247.5,219.9 243.8,218.6 239.4,215.5 241.3,213 245.6,210.5 245,206.8 246.3,201.8 250,198.1M240,258.8 243.8,263.8 247.5,267.5 251.3,274.4 255,271.3 261.3,270.6 268.8,271.9 270,277.5 276.3,278.1 282.5,276.3 285,271.3 290,270 296.3,270 295.6,263.8 298.8,261.3 303.8,260.6 307.5,265 312.5,263.8 317.5,261.3 325,258.8 332.5,255 337.5,252.5 340,251.3 341.5,247 343.8,243 343.1,240 340.6,236.3 341.9,232.5 343.8,228.1M218.8,240 219.4,247.5 221.3,253.8 225,255.6 230,249.4 235,255 240,258.8M282.5,276.3 283.1,282.5 286.3,285.5 287.5,290.5 285,295.5 288.1,299.3 288.8,304.3 286.9,308 288.8,310.5 285,314.3 285.6,320.5 281.3,323 276.3,323.6 272.5,320.5 268.8,323 266.3,325.5 261.3,325.5 256.3,329.3 252.5,331.8 247.5,334.3 245,336.8 246.9,339.9 251.3,341.1 256.3,339.9 258.8,341.8 259.6,346 258.8,351 255.6,354.8 258.1,359.8 260,364.8 258.1,368.5 259.4,374.8 261.3,381 261.9,387.3 263.1,392.3 265,397.3 266.3,403M340,251.3 340,257.5 343.8,262.5 347.5,267.5 350,273.8 347.5,277.5 352.5,278.1 356.3,281.3 360,284.5 365,288 370,289.9 373.8,298 376.3,303 380,306 383.8,310.5 387.5,308 392.5,309.3 396.3,307.4 398.8,304.3 397.5,300.5 400.6,298.6 405,301.8 410,300.5 412.5,299.3M396.3,307.4 396.9,311.8 395.6,315.5 396.3,319.3 392.5,321.8 390,324.3 392.5,326.8 396.3,329.3 392.5,333 387.5,335.5 383.8,338 380,339 375,341.8 371.9,344.3 375,346 377.5,351 381.3,356 381.9,359.8 378.8,362.3 380,366 376.3,368.5 370,369.5 365,369.3 357.5,370.4 351.6,370 351.3,364.8M351.5,370.2 350,376 346.3,380.4 342.5,382.3 339.4,385.4 342.5,388.5 345,392.9 350,395.4 353.8,398.5 357,401 358.1,406.3 353.8,410 350,415 346.3,418.8 342.5,422.5 340,428.8 340.3,433M416.3,306.8 422.5,304.9 427.5,309.3 433.8,312.4 438.8,313 441.3,315.5 440,320.5 441.3,324.3 445,326.1 443.8,330.5 441.9,334.3 447.5,334.3 452.5,333.6 457.5,333 462.5,330.5 461.3,325.5 460,320.5 458.8,316.8 461.3,315.5 467.5,317.4 472.5,317.4 476.3,319.3 480,321.8 481.9,326.8 481.3,333 481.9,339.3 482.5,344.3 483.1,351M435,228.8 440,229.4 445,228.8 448.8,230.6 451.3,234.4 453.8,236.9 458.8,236.3 462.5,236.9 465,233.8 465.6,230.6 463.8,228.1"/>
<g id="logo">
<path fill="#0a5cf5" d="M7,5H20C24,8 27.5,13 28.6,18C29.4,24 29.2,29 28.4,33C27,37 24.5,41 22.5,45C21.3,48 21,51 21,53.8H7Z"/>
<path fill="#0a5cf5" d="M56,8C52,8.6 48.5,11 45.5,14.5C43,18 41.6,22 41,26C40.6,30 39.5,32.5 37.5,35C34,39.5 30,43.5 27,47C25,49.5 24,52 23.8,53.8H56Z"/>
<g fill="#0a5cf5" fill-rule="evenodd">
<rect x="7.1" y="56.3" width="3" height="14.5"/>
<path d="M14,56.3H24.4C27.2,56.3 28.7,57.8 28.7,60C28.7,62.1 27.3,63.5 24.9,63.7L29.2,70.8H25.6L21.5,63.8H17V70.8H14ZM17,58.6V61.5H24C25.2,61.5 25.7,60.9 25.7,60C25.7,59.2 25.2,58.6 24,58.6Z"/>
<path d="M33.5,70.8V56.3H37.7L44.75,67.2L51.8,56.3H56V70.8H53V60.4L46.1,70.8H43.4L36.5,60.4V70.8Z"/>
</g></g>
</defs>
<rect width="1280" height="507" fill="#fff"/>
<!-- left map -->
<g clip-path="url(#bc)">
<rect x="0" y="60" width="560" height="447" fill="#f46d43"/>
<g shape-rendering="crispEdges">
<path fill="#a50026" d="M353.9,98.8C352.6,101.4 349.5,103 347.6,105.1C345.1,107.8 342.5,111 340.1,113.9C336.8,117.9 333.2,122.4 330,126.4C326.8,130.4 323.4,135.2 320,139C318.1,141.2 315.4,143.2 313.3,145.2C310.4,148 307,150.9 304.5,154C303,155.8 302.4,158.6 300.8,160.3C298.7,162.6 296,165.1 293.2,166.5C289.5,168.4 284.9,170.1 280.7,170.3C277.4,170.5 273.7,169.3 270.7,167.8C267.1,166 264.1,162.4 260.7,160.3C256.9,158 252.6,154.7 248.1,154C244.1,153.4 239.6,155.8 235.6,156.5C230.8,157.4 225.3,157.9 220.6,159C216.5,159.9 211.6,160.6 208,162.8C204.9,164.7 202.1,168.2 200.5,171.5C199.4,174 199.8,177.3 200,180C200.2,184 201.4,188.5 201.8,192.5C202.2,196.5 203,201 202.5,205C202.2,207.6 200.8,210.5 199.2,212.6C197.7,214.6 194.3,215.4 193,217.6C192.4,218.7 193.1,220.7 194.2,221.4C195.9,222.5 198.4,222.6 200.5,222.6C203.7,222.6 207.6,222.8 210.5,221.4C212.8,220.2 213.5,216.7 215.5,215.1C216.9,214 218.9,213.3 220.6,213.1C223.8,212.8 227.4,213.5 230.6,213.8C233.8,214.1 237.5,214.4 240.6,215.1C242.7,215.6 245.2,218.9 246.9,217.6C249.6,215.6 249.1,210.7 250.6,207.6C251.9,205 253.5,202 255.6,200C257.6,198 260.5,196.2 263.2,195.5C265.5,194.9 268.5,195.3 270.7,196.3C273.5,197.6 276.1,200.3 278.2,202.6C280.1,204.7 282,207.4 283.2,210C284.4,212.7 284.8,216 285.7,218.8C286.4,220.9 286.6,223.7 288.2,225.1C289.8,226.4 292.5,226.9 294.5,226.4C296.9,225.8 298.7,223.2 300.8,222C303.6,220.4 307.1,219 310,217.6C313.2,216 317.1,214.7 320,212.6C321.6,211.4 323.2,209.5 323.8,207.6C324.3,206.1 323.9,204 323.1,202.6C322.2,201 319.8,200.3 318.8,198.8C317.9,197.4 317.3,195.4 317.5,193.8C317.7,192 318.6,189.9 320,188.8C321.7,187.5 324.2,186.9 326.3,187C328.5,187.1 330.9,188.1 332.6,189.5C334,190.7 334.9,192.7 335.1,194.5C335.3,196.1 334.7,198.1 333.8,199.5C332.8,201 330.6,201.7 329.6,203.1C328.7,204.3 327.9,206.1 328.1,207.6C328.5,209.8 329.8,212.2 331.3,213.8C333.7,216.3 337,218.6 340.1,220.1C343.1,221.6 346.8,222.9 350.1,223.1C353.7,223.3 357.9,222.3 361.4,221.4C365.1,220.4 369,218.1 372.7,217.1C376.6,216.1 381.2,215.6 385.2,215.1C389.2,214.6 393.8,214.9 397.7,213.8C401.2,212.8 404.8,210.8 407.8,208.8C410.1,207.2 412.6,205 414,202.6C415.1,200.8 415.9,198.3 415.3,196.3C414.6,193.8 412,191.9 410.3,190C408.4,187.9 406.2,185.6 404,183.8C402.9,182.9 401.2,182.5 400.3,181.5C398,179 395.9,175.7 394,172.8C392.5,170.5 390.7,167.9 389.7,165.3C389.1,163.8 388.5,161.8 389,160.3C389.6,158.5 391,156.5 392.7,155.7C396.5,154.1 401.2,153.7 405.3,153.2C410.1,152.6 415.5,151.6 420.3,152.2C424.5,152.7 429.2,154.3 432.8,156.5C434.9,157.8 436.7,160.4 437.3,162.8C438,165.9 437.1,169.6 436.6,172.8C436.1,176 435.1,179.5 434,182.5C433.1,185 431,187.4 430.3,190C429.4,193.1 429.7,196.9 429,200C428.7,201.4 425.6,203.9 427,204C440.7,205.3 465.5,217 470,204C483,166.5 496.3,109.7 470,80C446.6,53.7 394.7,74.4 360,80C353.8,81 356.7,93.1 353.9,98.8Z"/>
<path fill="#a50026" d="M136.6,235 140,234.3 144.9,235 144.5,238.5 139,238.9 136.6,237.5Z"/>
<path fill="#a50026" d="M207,235.5 208.5,233 210,236 208,236.5Z"/>
<path fill="#fee090" d="M16.9,151.9C22.1,153 27.5,155.9 32.6,157.2C38.1,158.6 44.4,159.5 50,160.6C58,162.2 66.9,164.4 75,165.6C79.8,166.3 85.3,165.5 90,166.3C91.8,166.6 93.3,168.3 95,168.8C97.3,169.5 100.1,170.2 102.5,169.8C103.3,169.7 103.8,168.3 103.8,167.5C103.9,164.9 102,161.9 102.8,159.4C104.2,155.2 108,151.5 110.3,147.7C112.8,143.7 115.5,139.3 117.8,135.2C119.5,132.2 121.4,128.8 122.8,125.7C123.6,124 124.2,122 124.6,120.2C126.5,110.6 137.4,96.5 130,90C120.4,81.6 101.6,84.6 90,90C58.6,104.5 26.4,127.6 0,150C-4.2,153.5 11.6,150.7 16.9,151.9Z"/>
<path fill="#e0f3f8" d="M72.7,120.2 77.7,122.2 84,121.4 89,116.4 90.7,108.9 80,105 70,115Z"/>
<path fill="#fee090" d="M255.8,255 257.5,254.3 258.8,256 258.3,260 257.6,263 256.6,262.5 255.6,258.5Z"/>
<path fill="#fee090" d="M236,373C236.7,373 236.6,371.7 236.9,371C237.5,369.4 238.3,367.6 238.8,366C239.3,364.4 239.5,362.6 240,361C240.5,359.4 241.3,357.6 241.9,356C242.5,354.4 243.3,352.6 243.8,351C244.3,349.4 244.7,347.6 245,346C245.3,344.7 244.7,342.8 245.6,341.8C246.6,340.7 248.6,340.9 250,340.5C251.6,340.1 253.4,339.7 255,339.3C256.6,338.9 258.5,338.6 260,338C261.7,337.4 263.6,336.6 265,335.5C266,334.7 267.2,333.6 267.5,332.4C267.8,331.2 267.3,329.8 266.9,328.6C266.5,327.3 265.4,326.2 265,324.9C264.7,323.9 264.3,322.5 265,321.8C266,320.6 267.9,320.3 269.4,319.9C271.1,319.5 273.2,319.7 275,319.3C276.7,318.9 278.4,318.1 280,317.4C281.6,316.7 283.6,316 285,314.9C286.2,313.9 286.9,312.2 288.1,311.1C289.4,309.9 291.1,308.9 292.5,308C294.1,307 295.9,305.9 297.5,304.9C299.1,303.9 300.8,302.6 302.5,301.8C304,301 305.9,300.6 307.5,299.9C309.1,299.2 310.8,297.9 312.5,297.4C314,296.9 315.9,296.7 317.5,296.8C318.8,296.9 320.2,297.4 321.3,298C322.2,298.4 322.8,299.6 323.8,299.9C324.6,300.1 325.7,299.9 326.3,299.3C327.4,298.2 328,296.3 328.8,294.9C329.4,293.9 330.6,292.9 330.6,291.8C330.6,291 329.5,290.4 328.8,289.9C327.7,289 326.3,288.1 325,287.4C323.5,286.6 321.5,286.3 320,285.5C318.7,284.9 317.4,283.9 316.3,283C315.8,282.6 315.7,281.5 315,281.3C313.5,280.9 311.6,281.5 310,281.3C308.4,281.1 306.3,281 305,280C303.9,279.2 303.9,277.4 303.1,276.3C302.3,275.1 301.2,273.9 300,273.1C299,272.4 297.5,271.9 296.3,271.9C295,271.9 293.7,272.7 292.5,273.1C290.1,273.9 287.5,275.3 285,275.6C282.6,275.9 279.9,275.5 277.5,275C275.8,274.7 272.8,274.8 272.5,273.1C272.2,271 275.1,269.3 276.3,267.5C277.9,265.1 279.6,262.3 281.3,260C283.2,257.5 285.5,254.9 287.5,252.5C289.1,250.5 290.5,247.9 292.5,246.3C294.2,244.9 296.8,244.2 298.8,243.1C300.8,242 302.8,240.2 305,239.4C306.5,238.8 308.4,238.7 310,239C311.7,239.3 313.6,240.2 315,241.3C316.3,242.4 316.9,244.4 318.1,245.6C319.7,247.2 321.9,248.8 323.8,250C325.7,251.2 327.9,252.3 330,253.1C332.3,253.9 335,254.7 337.5,255C340.3,255.3 343.5,254.8 346.3,255C349.1,255.2 352.4,255.3 355,256.3C356.9,257 358.4,258.8 360,260C361,260.8 361.8,262.5 363.1,262.5C364.4,262.5 365.1,260.6 366.3,260C368.2,259.1 370.4,258.1 372.5,258.1C374.6,258.1 376.9,259.1 378.8,260C380.3,260.7 382.3,261.6 383.1,263.1C383.7,264.2 383.4,266.1 382.5,266.9C380.9,268.2 378.3,268.4 376.3,268.8C373.9,269.2 371.1,268.6 368.8,269.4C367.5,269.9 366.3,271.2 366,272.5C365.8,273.4 366.7,274.6 367.5,275C369.4,275.9 371.7,276.2 373.8,276.3C376.2,276.4 378.9,275.8 381.3,275.6C382.5,275.5 383.9,275.9 385,275.6C385.9,275.3 386.8,274.4 387.5,273.8C388.4,273.1 389,271.8 390,271.3C391.5,270.6 393.4,270.4 395,270C396.6,269.6 398.4,269.1 400,268.8C401.6,268.5 403.4,268.4 405,268.1C406.6,267.8 408.4,267.3 410,266.9C412,266.3 414.2,265.5 416.3,265C417.9,264.7 419.7,264.7 421.3,264.4C422.9,264.1 424.8,263.8 426.3,263.1C427.5,262.6 428.8,261.7 429.4,260.6C430.1,259.4 429.4,257.6 430,256.3C430.5,255.3 431.7,254.6 432.5,253.8C433.9,252.5 435.6,251.4 436.9,250C438.5,248.3 439.8,246.1 441.3,244.4C442.8,242.6 444.8,240.7 446.3,238.8C447.4,237.3 448.5,235.4 449.4,233.8C450.3,232.2 451.2,230.5 451.9,228.8C453,226 452,220.2 455,220C488.5,217.3 548.5,188.4 560,220C591.6,306.2 631.8,449.7 560,507C469.9,578.8 308,547.2 200,507C159.8,492 188.9,414.4 200,373C203,361.9 224.5,373.6 236,373Z"/>
<path fill="#fee090" d="M224.4,313.8C225.6,312.1 228.2,311.6 230,310.6C232.8,309.2 235.7,306.1 238.8,306.3C240.5,306.4 240.4,309.6 240.6,311.3C240.8,312.9 240.9,315 240,316.3C239.3,317.3 237.4,316.9 236.3,317.5C234.6,318.5 233.1,320.3 231.3,321.3C229.8,322.1 227.8,324 226.3,323.1C224.7,322.1 225.4,319.3 225,317.5C224.8,316.3 223.7,314.8 224.4,313.8Z"/>
<path fill="#fee090" d="M222,326.3C223.1,324.9 225.7,325.4 227.5,325.6C229.2,325.8 230.9,327 232.5,327.5C234.5,328.2 237,328.2 238.8,329.4C239.7,330 240.3,331.5 240,332.5C239.6,333.9 238.3,335.4 237,336C234.9,336.9 232.2,337.4 230,337C227.2,336.4 223.7,335.3 222,333C220.7,331.3 220.7,328 222,326.3Z"/>
<path fill="#f46d43" d="M261.3,370.4C261.8,369.2 262.8,368.1 263.8,367.3C265.3,366.1 267.2,365.1 268.8,364.1C270.8,362.9 272.8,361.2 275,360.4C277.3,359.6 280.1,359.4 282.5,359.1C285.3,358.8 288.5,358.7 291.3,358.5C294.1,358.3 297.2,358 300,357.9C301.6,357.8 303.5,358.4 305,357.9C306.2,357.5 307,356.1 308.1,355.4C309.4,354.6 311,353.7 312.5,353.3C313.7,353 315.3,352.9 316.3,353.5C317.3,354.1 318.4,355.5 318,356.6C317.4,358.2 315.3,359 314,360C312,361.6 309.4,363.1 307.5,364.8C306.5,365.6 305.9,367 305,367.9C303.9,368.9 302.7,370.1 301.3,370.4C299.3,370.9 297,370.4 295,370.4C292.6,370.4 289.9,370 287.5,370.4C285.8,370.7 284.1,371.6 282.5,372.3C280.9,373 279.2,374.3 277.5,374.8C275.6,375.3 273.3,375.5 271.3,375.4C269.2,375.3 267,374.7 265,374.1C263.9,373.7 262.7,373.1 261.9,372.3C261.4,371.8 261.1,371 261.3,370.4Z"/>
<path fill="#f46d43" d="M331.3,361.6C331.3,359.7 334.7,359.5 336.3,358.5C337.9,357.5 339.7,356.4 341.3,355.4C342.5,354.6 343.6,353 345,352.9C346.4,352.8 347.6,354.2 348.8,354.8C350.4,355.6 352.1,356.7 353.8,357.3C355.7,357.9 358.1,357.7 360,358.5C361.6,359.1 363.6,360.1 364.4,361.6C364.9,362.6 363.9,364.1 363.1,364.8C362,365.8 360.2,366.2 358.8,366.6C357.2,367 355.4,367.3 353.8,367.3C351.8,367.3 349.5,367 347.5,366.6C345.5,366.2 343.3,365.4 341.3,364.8C339.7,364.3 337.9,363.4 336.3,362.9C334.7,362.4 331.3,363.3 331.3,361.6Z"/>
<path fill="#f46d43" d="M387.5,331.1C387.8,329.6 388.5,328 389.4,326.8C390.5,325.3 392.5,324.3 393.8,323C394.7,322.1 395.2,320.5 396.3,319.9C397.7,319.1 399.7,318.7 401.3,318.6C402.7,318.5 404.5,318.4 405.6,319.3C406.6,320.1 406.9,321.7 406.9,323C406.9,324.7 405.9,326.4 405.6,328C405.3,329.6 405.8,331.6 405,333C404.3,334.2 402.6,334.9 401.3,335.5C399.8,336.3 398,337.2 396.3,337.4C394.7,337.6 392.8,337.4 391.3,336.8C390.1,336.3 388.8,335.4 388.1,334.3C387.5,333.4 387.3,332.1 387.5,331.1Z"/>
<path fill="#f46d43" d="M410,305.5 411.9,303.6 413.1,308 412.5,313 410,314.3 409.4,309.9Z"/>
<path fill="#f46d43" d="M420,283 422,283 421.5,285.3 420,285Z"/>
<path fill="#f46d43" d="M410.6,484.6C412,483.9 414.7,483.9 415.6,485.3C416.4,486.6 414.5,488.3 413.8,489.6C413.1,491.1 412.1,492.6 411.3,494C410.5,495.3 410.1,497.2 408.8,498C407.8,498.7 405.2,499.2 405,498C404.7,496.1 407.3,494.6 408.1,492.8C408.7,491.5 409,489.8 409.4,488.4C409.8,487.2 409.5,485.2 410.6,484.6Z"/>
<path fill="#e0f3f8" d="M495,241.3C493.5,241.4 492.2,243.2 491.3,244.4C490.2,245.8 489.8,247.9 488.8,249.4C488,250.6 486.4,251.3 485.6,252.5C484.8,253.6 484.7,255.3 483.8,256.3C482.8,257.4 481.2,258 480,258.8C478.8,259.6 477.5,260.6 476.3,261.3C475.1,262 473.6,262.3 472.5,263.1C471.3,263.9 470.2,265.1 469.4,266.3C468.7,267.4 468.6,268.8 468.1,270C467.6,271.2 467,272.7 466.3,273.8C465.6,274.9 464.5,275.8 463.8,276.9C463.1,278 462.4,279.4 461.9,280.6C461.6,281.3 461.9,282.4 461.3,283C460.3,284 458.8,284.4 457.5,284.9C455.6,285.6 453.2,286 451.3,286.8C449.6,287.6 447.8,288.7 446.3,289.9C445.3,290.7 444.4,291.9 443.8,293C443,294.5 443.1,296.7 441.9,298C440.5,299.5 438.2,300.4 436.3,301.1C434.4,301.8 431.8,301.5 430,302.4C428.9,303 428,304.3 427.5,305.5C426.8,307 426.7,308.9 426.3,310.5C425.9,312.5 425.5,314.8 425,316.8C424.5,318.8 423.9,321.1 423.1,323C422.3,325.1 421,327.3 420,329.3C419.2,330.9 418.1,332.6 417.5,334.3C416.9,335.8 416.5,337.7 416.3,339.3C416.1,341.4 415.8,343.9 416.3,346C416.6,347.4 417.9,348.6 418.8,349.8C419.5,350.8 422.1,351.9 421.3,352.9C419.9,354.4 417.1,354.1 415,354.1C413.4,354.1 411.6,353.3 410,352.9C408.4,352.5 406.7,351.7 405,351.6C403.4,351.5 401.5,351.7 400,352.3C398.6,352.9 397.4,354.3 396.3,355.4C395,356.7 393.7,358.3 392.5,359.8C391.3,361.4 389.8,363.1 388.8,364.8C387.9,366.3 387.3,368.3 386.3,369.8C385.3,371.3 384.1,373.1 382.5,374.1C380.7,375.2 378.3,375.4 376.3,376C374.3,376.6 371.8,376.9 370,377.9C368.5,378.7 367.5,380.5 366.3,381.6C365.6,382.3 364.8,383.3 363.8,383.5C362.6,383.8 361.1,383.5 360,383C359,382.5 358.5,381 357.5,380.4C356.4,379.7 355.1,379.2 353.8,379.1C351.8,379 349.5,379.7 347.5,379.8C345.1,379.9 342.4,379.8 340,379.8C337.6,379.8 334.9,379.6 332.5,379.5C330.1,379.4 327.4,378.9 325,379.1C323.4,379.2 321.7,380.3 320,380.4C315.2,380.6 306.2,375.3 305,380C300.3,398.6 296.4,422.8 305,440C312.7,455.5 333.5,464.7 350,470C360.7,473.5 373.9,468.1 385,466C386.6,465.7 387.3,463.3 388.8,462.8C390.3,462.3 392.3,462.3 393.8,462.8C395.3,463.3 396.2,465.1 397.5,465.9C399,466.9 400.8,467.8 402.5,468.4C404.5,469 406.8,469.3 408.8,469.6C411.2,469.9 413.9,470.3 416.3,470.3C418.7,470.3 421.4,469.9 423.8,469.6C426.2,469.3 428.9,468.9 431.3,468.4C433.7,467.9 436.5,467.3 438.8,466.5C440.5,465.9 442.3,465 443.8,464C445.1,463.2 446.2,461.7 447.5,460.9C449,460 451,459.9 452.5,459C453.5,458.4 455,457.6 455,456.5C455,455.2 453.4,454.3 452.5,453.4C451.4,452.3 449.8,451.5 448.8,450.3C448.2,449.6 447.3,448.7 447.5,447.8C447.8,446.3 449.1,445 450,443.8C450.9,442.5 451.5,440.2 453.1,440C460,438.9 468,440 475,440C502.2,440 549.3,465 560,440C585,381.4 579.8,301.5 560,241C553.5,221.2 515.8,240.3 495,241.3Z"/>
<path fill="#e0f3f8" d="M243.1,397.3C243.8,395.8 246.1,395.6 247.5,394.8C249.1,394 250.9,393 252.5,392.3C254.1,391.6 255.8,390.8 257.5,390.4C259.5,390 261.8,390 263.8,389.8C265.8,389.6 268,389.4 270,389.1C272,388.8 274.3,388.3 276.3,387.9C278.3,387.5 280.5,386.9 282.5,386.6C284.5,386.3 286.8,385.9 288.8,386C290.5,386.1 292.3,386.6 293.8,387.3C295.1,387.9 296.4,388.9 297.5,389.8C298.2,390.3 298.6,391.2 299.4,391.6C300.2,392 301.9,391.2 302,392C302.8,397.7 307.5,408.4 302,410C282.9,415.5 259.4,414.2 240,410C235.9,409.1 241.2,401.1 243.1,397.3Z"/>
<path fill="#e0f3f8" d="M341.3,313C341.6,311.5 343.7,310.8 345,309.9C346.5,308.8 348.7,308.2 350,306.8C351.2,305.5 351.5,303.3 352.5,301.8C353.5,300.4 355,299.2 356.3,298C357.9,296.5 359.5,294.8 361.3,293.6C362.2,293 363.4,292.1 364.4,292.4C365.6,292.8 366.3,294.4 366.9,295.5C367.5,296.8 367.5,298.6 368.1,299.9C368.5,301 369.2,302.2 370,303C371,304 372.4,305 373.8,305.5C375.7,306.2 378.1,306.2 380,306.8C380.9,307 382.3,307.1 382.5,308C383.2,310.5 383.1,313.5 382.5,316C382.2,317.3 380.9,318.3 380,319.3C379.3,320.2 378.2,320.9 377.5,321.8C376.4,323.3 375.3,325.2 374.4,326.8C373.3,328.7 372.2,331 371.3,333C370.6,334.6 370.4,336.6 369.4,338C368.3,339.5 366.7,341 365,341.8C363.5,342.5 361.6,342.5 360,342.4C358.4,342.3 356.6,341.6 355,341.1C353.4,340.6 351.4,340.3 350,339.3C348.8,338.4 348.3,336.7 347.5,335.5C346.9,334.5 345.6,333.6 345.6,332.4C345.6,331.4 346.7,330.5 347.5,329.9C349,328.7 351.1,328 352.5,326.8C353.7,325.8 355.1,324.5 355.6,323C355.9,322.1 355.8,320.6 355,319.9C353.7,318.8 351.6,318.5 350,318C348,317.3 345.6,317.1 343.8,316.1C342.7,315.5 341.1,314.3 341.3,313Z"/>
<path fill="#fee090" d="M323.1,420C323.7,418.3 324.8,416.4 326.3,415.6C328.1,414.7 330.5,414.6 332.5,415C334.1,415.3 335.8,416.4 336.9,417.5C338,418.6 338.3,420.7 339.4,421.9C340.6,423.3 342.4,424.4 343.8,425.6C344.8,426.4 347.2,426.9 346.9,428.1C346.5,429.7 344.1,430.4 342.5,430.6C341.1,430.8 339.5,429.9 338.1,429.4C336.3,428.7 334.3,427.7 332.5,426.9C330.9,426.2 329.1,425.7 327.5,425C326.3,424.5 324.7,424.1 323.8,423.1C323.1,422.3 322.8,421 323.1,420Z"/>
<path fill="#fee090" d="M449.4,302 453.8,302.3 453.8,303.8 449.4,303.6Z"/>
<path fill="#fee090" d="M367.5,453 371.3,454 371.3,457 366,456Z"/>
<path fill="#74add1" d="M500,251.9C498.5,252 498,254.5 496.9,255.6C495.8,256.7 494.2,257.7 493.1,258.8C492,259.9 491.1,261.4 490,262.5C488.9,263.6 487.6,264.7 486.3,265.6C485.2,266.4 483.7,266.8 482.5,267.5C481.3,268.2 479.9,269 478.8,270C477.9,270.9 477,272.1 476.3,273.1C475.4,274.3 474.6,275.7 473.8,276.9C473.2,277.9 472.5,279 471.9,280C471.3,281 470.5,282 470,283C469.3,284.4 468.9,286.1 468.1,287.4C467.3,288.7 466.3,290.2 465,291.1C463.6,292 461.7,292.5 460,292.8C458.4,293.1 455,291.4 455,293C455,294.7 458.3,294.6 460,294.9C462.4,295.3 465.1,295.2 467.5,295.3C469.9,295.4 472.6,295.2 475,295.5C476.6,295.7 478.5,296.1 480,296.8C481.4,297.5 482.9,298.6 483.8,299.9C484.5,300.9 484.9,302.4 484.8,303.6C484.7,305.1 483.9,306.7 483.1,308C482.3,309.2 481.3,310.5 480,311.1C478.2,311.9 475.8,311.6 473.8,312C472.4,312.3 470.2,311.8 469.4,313C468.6,314.2 469.8,316 470,317.4C470.2,318.8 470.7,320.4 470.6,321.8C470.5,323 470.5,325 469.4,325.5C468.3,325.9 467.2,324.3 466.3,323.6C465,322.7 463.9,321.2 462.5,320.5C461.8,320.1 460.7,320.2 460,320.5C458.7,321 457.5,322.3 456.3,323C454.7,323.9 453.1,325.2 451.3,325.5C449.7,325.8 447.9,325.2 446.3,324.9C444.7,324.6 443,323.7 441.3,323.6C439.7,323.5 437.9,324 436.3,324.3C434.5,324.6 432.1,324.4 430.6,325.5C429.2,326.6 428.8,328.9 428.1,330.5C427.2,332.5 426.5,334.8 425.6,336.8C424.9,338.2 423.2,339.5 423.1,341.1C423,342.3 424.1,343.5 425,344.3C425.8,345.1 427.1,345.4 428.1,346C429.6,346.9 431,348.3 432.5,349.1C434.8,350.3 437.5,351.5 440,352.3C442.3,353.1 445,353.8 447.5,354.1C449.9,354.4 452.7,354.6 455,354.1C456.4,353.8 457.5,352.3 458.8,351.6C459.3,351.3 460.4,350.4 460.6,351C461.2,352.5 460.8,354.4 460.6,356C460.4,357.6 459.9,359.4 459.4,361C458.9,362.6 458.5,364.6 457.5,366C456.6,367.3 455.1,368.3 453.8,369.1C451.9,370.3 449.5,371.3 447.5,372.3C445.5,373.3 443.1,374.2 441.3,375.4C439.5,376.6 438,378.5 436.3,379.8C434.8,381.1 433,382.5 431.3,383.5C429.8,384.4 427.8,385 426.3,386C424.5,387.2 423.1,389.3 421.3,390.4C419.8,391.3 417.8,391.8 416,392C414.5,392.2 412.5,392.5 411.3,391.6C410.1,390.7 409.7,388.8 409.4,387.3C408.9,385.3 409.1,383 408.8,381C408.5,379 408.2,376.7 407.5,374.8C406.8,372.9 405.6,370.8 404.4,369.1C403.9,368.4 403.3,367.3 402.5,367.3C401.2,367.3 399.9,368.4 398.8,369.1C397.3,370.2 395.8,371.6 394.4,372.9C392.9,374.3 391,375.6 390,377.3C389.2,378.7 388.8,380.7 388.8,382.3C388.8,383.9 389.9,385.7 390,387.3C390.1,388.9 390.1,390.9 389.4,392.3C388.4,394.2 386.4,395.7 385,397.3C384,398.3 382.6,399.2 381.9,400.4C380.8,402.1 379.8,404.3 379.4,406.3C379.1,407.9 379.5,409.8 380,411.3C380.5,412.6 381.3,414.2 382.5,415C383.9,415.9 385.9,416 387.5,416.3C389.5,416.6 391.8,416.6 393.8,416.9C395.4,417.2 397.3,417.4 398.8,418.1C400.2,418.8 401.4,420.2 402.5,421.3C403.8,422.6 405,424.3 406.3,425.6C407.8,427.1 409.7,428.6 411.3,430C412.9,431.3 414.6,432.7 416.3,433.8C417.8,434.9 419.6,436.1 421.3,436.9C422.8,437.7 424.6,438.4 426.3,438.8C427.9,439.2 429.7,439.5 431.3,439.4C432.9,439.3 434.7,438.7 436.3,438.1C437.5,437.7 439.1,437.2 440,436.3C440.8,435.5 440.7,434 441.3,433.1C442.1,431.9 443.7,431.2 444.4,430C445,428.9 445.3,427.5 445,426.3C444.6,424.6 443.2,422.9 442.5,421.3C442,420.1 441.3,418.8 441.3,417.5C441.3,416.3 441.8,414.8 442.5,413.8C443.1,413 444,412 445,411.9C453,411.1 462,411.1 470,411C498.8,410.8 545.8,436.1 560,411C585.1,366.7 578,299.6 560,252C553.2,234 519.2,250.8 500,251.9Z"/>
<path fill="#74add1" d="M314,398.3 324.4,398.5 323,401.5 315,401.5Z"/>
<path fill="#e0f3f8" d="M496.9,347C497.6,345.9 496.8,344.1 497.5,343C498.1,342 499.5,341.3 500.6,341.1C501.7,340.9 503.2,341.1 504,341.8C505.1,342.8 506.3,344.5 506,346C505.6,348 503.8,350 502,351C500.6,351.8 498.5,351.6 497,351C495.8,350.5 494.4,349.3 494.4,348C494.4,347.1 496.4,347.7 496.9,347Z"/>
<path fill="#313695" d="M511.3,258.1C509.9,258.2 508.5,259.1 507.5,260C506.4,261 506.1,262.8 505,263.8C503.6,265.1 501.6,265.9 500,266.9C498.8,267.7 497.6,268.8 496.3,269.4C494.8,270.2 492.8,270.5 491.3,271.3C490,272 488.6,272.9 487.5,273.8C486.2,274.9 484.9,276.3 483.8,277.5C482.9,278.4 482.1,279.6 481.3,280.6C480.6,281.4 479,281.9 479,283C479,284.2 480.3,285.4 481.3,286.1C483.1,287.4 485.4,288.5 487.5,289.3C489.8,290.1 492.7,290.3 495,291.1C496.7,291.7 498.6,292.5 500,293.6C501.2,294.6 502.1,296.2 503.1,297.4C504.2,298.8 505.2,300.4 506.3,301.8C507.4,303.2 508.8,304.8 510,306.1C511.4,307.6 513,309.1 514.4,310.5C515.6,311.7 516.7,313.4 518.1,314.3C519.8,315.4 522,316 523.8,316.8C525.8,317.6 527.9,318.8 530,319.3C531.2,319.6 532.6,319.3 533.8,319.3C537.4,319.2 544.4,322.5 545,319C548.5,299.8 554.5,275.1 545,258C539.8,248.6 522.1,257.5 511.3,258.1Z"/>
<path fill="#313695" d="M440,332.4C440.7,332.6 440.7,333.9 441.3,334.3C442.8,335.3 444.7,336 446.3,336.8C448.1,337.6 450.1,338.4 451.9,339.3C452.9,339.8 454.7,340 455,341.1C455.3,342.1 454,343.1 453.1,343.6C451.5,344.4 449.3,344.7 447.5,344.9C445.1,345.1 442.3,345.4 440,344.9C438.4,344.6 436.4,343.8 435.6,342.4C434.9,341.1 435.8,339.3 436.3,338C436.9,336.5 437.9,335 438.8,333.6C439.1,333.1 439.5,332.3 440,332.4Z"/>
</g>
<use href="#pb" class="b"/>
<use href="#rv" class="r"/>
<use href="#rw" class="r" style="stroke-width:1.6"/>
</g>
<use href="#bo" class="o"/>
<path d="M329.6,81.3c0.6,-1.8 2.6,-3 4.2,-2.6c1.4,0.6 1.2,2.8 0.2,4.6c-1,1.6 -3,2.2 -4,1.4c-0.8,-0.8 -0.8,-2.2 -0.4,-3.4z" fill="#111"/>
<ellipse cx="498.1" cy="357.9" rx="2.7" ry="2.6" fill="#fff" stroke="#1c1c1c" stroke-width="1.5"/>
<!-- right map -->
<g transform="translate(640,0)">
<g clip-path="url(#bc)">
<rect x="0" y="60" width="560" height="447" fill="#f7814c"/>
<g shape-rendering="crispEdges">
<path fill="#dc3b2c" d="M67.7,122.7C67.6,125.9 67.5,129.7 66.4,132.7C65.4,135.4 62.8,137.7 61.4,140.2C59.6,143.3 57.7,146.8 56.4,150.2C55.2,153.3 54.3,157 53.9,160.3C53.5,163.5 54.1,167.1 53.9,170.3C53.7,173.5 52.3,177.1 52.6,180.3C52.9,183.5 56.1,186.8 55.6,190C55.2,192.6 52.1,194.6 50.1,196.3C48.3,197.8 46.2,199.8 43.9,200C41,200.2 38,198.1 35.1,197.5C31.9,196.9 28.3,195.8 25.1,196.3C23.1,196.6 22,199.5 20,200C16.9,200.8 13.2,200 10,200C6.8,200 0.5,203.2 0,200C-3.2,177.8 -14.2,147.3 0,130C13.8,113.1 45.3,120.3 67,118C68.5,117.8 67.8,121.2 67.7,122.7Z"/>
<path fill="#a50026" d="M10.5,154.4C3.5,160.2 27.1,144.5 35,140C42.2,135.9 50.2,131 57.8,127.5C58.4,127.2 57.7,129 57.5,129.6C57.2,130.4 57,131.4 56.3,131.9C54.5,133.2 51.8,133.7 50,135C48.6,136 47.5,137.7 46.3,138.8C45.1,139.9 43.7,140.9 42.5,141.9C40.9,143.3 38.9,144.7 37.5,146.3C36,148.1 35,150.5 33.8,152.5C32.6,154.5 31.5,157 30,158.8C28.7,160.4 26.6,161.6 25,163C23.4,164.4 21.6,166.1 20,167.5C18.8,168.5 17.8,170.9 16.3,170.5C14.7,170.1 15,167.1 13.8,166C11.3,163.7 6.6,163 5,160C3.5,157.2 2.9,152.4 5,150C11.6,142.6 21.3,136.7 30,132C38.1,127.6 63,115.1 57,122C45.1,135.7 24.5,142.9 10.5,154.4Z"/>
<path fill="#fdc375" d="M79,116.4C78.9,120 79.4,124.3 78.2,127.7C77.3,130.5 74.4,132.7 72.7,135.2C70.6,138.3 68.1,141.8 66.4,145.2C64.9,148.3 62.9,151.8 62.7,155.2C62.5,157.8 63.8,160.6 65.2,162.8C66.7,165.2 70.1,166.5 71.4,169C72.6,171.1 72.7,174.1 72.7,176.5C72.7,177.7 71.4,178.8 71.4,180C71.4,183.2 72.1,186.8 72.7,190C73.3,193.2 72.9,197.7 75.2,200C77.5,202.3 82.2,201.2 85.2,202.6C87.5,203.7 89.7,205.8 91.5,207.6C93.3,209.4 95.9,211.3 96.5,213.8C96.9,215.5 95,217.3 94,218.8C93.4,219.8 92.2,220.5 91.5,221.4C89.3,224.1 84.6,226.6 85,230C85.9,237.1 89.3,245.7 95,250C97.9,252.2 101.9,246.5 105.3,245.2C106.8,244.6 108.9,244.7 110.3,243.9C112.5,242.7 114.7,240.7 116.5,238.9C117.9,237.5 119.2,235.6 120.3,233.9C121.6,231.9 123.1,229.7 124.1,227.6C125.2,225.3 125.5,222.4 126.6,220.1C127.5,218.3 128.6,216.1 130.3,215.1C133.2,213.5 137.4,214 140.4,212.6C142.5,211.6 145.2,209.9 145.9,207.6C146.6,205.6 146.1,202 144.1,201.3C141.3,200.3 138.2,203.2 135.3,203.8C132.1,204.4 128.3,206.1 125.3,205C122.1,203.9 119.7,200.3 117.8,197.5C116.4,195.4 115.7,192.5 115.3,190C114.9,187.7 115.3,185.1 115.5,182.8C115.7,179.6 116.7,176 116.5,172.8C116.3,169.5 114.5,166.1 114,162.8C113.7,160.4 113.8,157.6 114,155.2C114.3,152 115.6,148.4 115.8,145.2C116,141.6 116.1,137.4 115.3,133.9C114.7,130.9 113.2,127.7 111.5,125.2C109.9,122.8 107.4,120.8 105.3,118.9C103.4,117.2 101,115.5 99,113.9C97,112.3 94.1,111.1 92.7,108.9C91.1,106.4 93,100.2 90,100C85.7,99.7 81.4,104.4 79,108C77.5,110.2 79.1,113.7 79,116.4Z"/>
<path fill="#fff2ae" d="M73.2,157.5 75,156 82,156 84,157.5 82,159 75,159Z"/>
<path fill="#fdc375" d="M32.6,212.6C36.6,212.3 41.1,213.2 45.1,213.8C48.8,214.4 54,213.5 56.4,216.3C58.1,218.2 55.2,221.7 53.9,223.9C52.7,225.8 50.4,227.2 48.9,228.9C47.6,230.4 46.5,232.5 45.1,233.9C43.6,235.4 41.4,239.6 40,238C34.4,231.8 30.3,223 28,215C27.5,213.4 30.9,212.7 32.6,212.6Z"/>
<path fill="#fdc375" d="M63.9,205.6 67.7,205.6 67.7,208.8 63.9,208.8Z"/>
<path fill="#dc3b2c" d="M135.3,145.2C135.7,142.7 136.3,139.7 137.8,137.7C139.3,135.7 141.7,133.8 144.1,133.2C146.1,132.7 148.6,133.5 150.4,134.4C153.1,135.8 155.8,138 157.9,140.2C160.3,142.7 163.2,145.7 164.2,149C164.9,151.3 164.1,154.4 162.9,156.5C161.5,159 159.1,161.4 156.6,162.8C154.1,164.3 150.8,165.3 147.9,165.3C145,165.3 141.5,164.4 139.1,162.8C137.1,161.4 135.3,158.9 134.8,156.5C134,153 134.7,148.8 135.3,145.2Z"/>
<path fill="#fdc375" d="M208,126.4C207.6,129.3 206.5,132.3 206,135.2C205.5,138.4 205,142 205,145.2C205,148 205.2,151.3 206,154C206.6,155.8 207.5,158.3 209.3,159C211.9,160.1 215.2,159.3 218,159C222.1,158.5 226.7,157.9 230.6,156.5C233.6,155.4 236.7,153.4 239.3,151.5C241.6,149.8 244.3,147.7 245.6,145.2C247.1,142.3 246.9,138.4 247.6,135.2C248.1,132.6 248.5,129.5 249.3,127C250.1,124.5 251.4,121.8 252.8,119.5C253.9,117.7 255.4,115.8 257,114.5C258.8,113 261.2,111.7 263.5,111C266.1,110.2 269.2,109.6 271.9,110.1C274.2,110.6 276.4,112.3 278.2,113.9C280.5,116 282.6,118.9 284.5,121.4C286.2,123.7 288.5,126.2 289.5,128.9C290.4,131.6 290.6,134.9 290.2,137.7C289.8,140.7 288.5,143.9 287,146.5C285.4,149.2 283,151.9 280.7,154C278.6,155.9 275.5,157.2 273.2,159C271.8,160.1 269.6,161.1 269.4,162.8C269.3,164.2 271.4,165.1 272.5,166C273.8,167.1 275.4,168.4 277,169C279.5,169.8 282.4,169.9 285,170.3C288.2,170.7 291.8,171 295,171.5C297,171.9 299.3,172.4 301.3,173.1C303,173.7 304.6,175.1 306.3,175.6C308.2,176.2 310.5,177 312.5,176.6C314,176.3 315.3,174.9 316.3,173.8C317.3,172.7 318.1,171.3 318.8,170C319.6,168.6 320.6,167.1 321,165.6C321.5,163.5 321.4,161.1 321.5,159C321.7,156.2 322.5,153 322,150.2C321.6,147.6 320.1,145 318.8,142.7C317.4,140.2 315,137.8 313.8,135.2C312.6,132.5 311.9,129.3 311.3,126.4C310.6,123.2 310.3,119.6 309.6,116.4C309.1,114.3 308.8,111.8 307.5,110.1C306.4,108.6 304.2,107.7 302.5,107C300.4,106.1 297.6,106.3 295.6,105.1C294,104.1 291.5,102.4 291.8,100.5C292.3,97.9 295.5,96.3 297.5,94.5C299.6,92.6 302.4,90.9 304.5,89C305.2,88.3 306,87.4 306.2,86.5C306.6,84.5 306.3,82.1 306.3,80C306.4,77.2 307.3,74 306.5,71.3C305.2,67.3 304.1,59 300,60C276.3,65.8 250.4,76.7 230,90C220,96.5 214.2,109.8 208,120C206.9,121.8 208.3,124.4 208,126.4Z"/>
<path fill="#dc3b2c" d="M225,177.5C227,176.1 230.1,176.4 232.5,176.3C234.5,176.2 237,176 238.8,176.9C240.4,177.7 241.6,179.7 242.5,181.3C243.7,183.5 244.3,186.4 245,188.8C245.7,191.2 246.2,193.9 246.9,196.3C247.5,198.3 248.6,200.4 248.8,202.5C249,204.3 249.2,206.7 248.1,208.1C247.2,209.2 245.2,208.9 243.8,208.8C241.4,208.7 238.6,208.4 236.3,207.5C234.5,206.8 232.7,205.2 231.3,203.8C229.9,202.4 228.7,200.4 227.5,198.8C226.3,197.2 224.8,195.5 223.8,193.8C222.9,192.3 221.6,190.6 221.3,188.8C221,187.2 221.4,185.3 221.9,183.8C222.6,181.7 223.2,178.8 225,177.5Z"/>
<path fill="#fdc375" d="M258.1,205C259.5,203 263.4,203 265.7,203.8C267.6,204.4 269.1,206.8 269.4,208.8C269.6,210.2 268.3,212.2 266.9,212.6C265,213.2 262.2,212.6 260.7,211.3C259,209.9 256.9,206.8 258.1,205Z"/>
<path fill="#fdc375" d="M371.4,118.9C370.8,121.4 369.5,124 368.9,126.4C368.2,129.2 367.8,132.4 367.2,135.2C366.6,138 365.8,141.2 365.2,144C364.7,146.4 363.8,149.1 363.9,151.5C364,154 364.7,156.8 365.7,159C366.7,161.3 368.7,163.3 370.2,165.3C371.7,167.3 373.7,169.4 375.2,171.5C376.5,173.4 377.5,175.9 378.9,177.8C380,179.3 381.5,180.6 382.7,182C383.5,182.9 384.2,184.3 385.2,185C387.4,186.5 390.3,187.6 392.7,188.8C395.1,190 398.3,190.7 400.3,192.5C402.1,194 404,196.5 404,198.8C404,200.8 402.3,203.5 400.3,203.8C396.2,204.4 391.8,201.9 387.7,201.3C383.7,200.7 379.2,199.6 375.2,200C372.6,200.2 369.9,202 367.5,203.1C365.5,204 363.3,205.3 361.3,206.3C359.3,207.3 357,208.3 355,209.4C352.6,210.7 349.9,212.5 347.5,213.8C345.1,215.1 342.5,216.7 340,217.5C337.7,218.3 334.9,219.2 332.5,218.8C329.5,218.3 326.7,215.9 323.8,215C321.5,214.3 318.7,213.7 316.3,213.8C313.4,213.9 310.2,214.8 307.5,215.6C305,216.4 302.4,217.7 300,218.8C297.6,219.9 295,221.5 292.5,222.5C290.2,223.4 287.4,223.9 285,224.5C282.8,225 280.3,225.4 278.2,226C275.3,226.8 272.2,227.9 269.4,228.9C266.6,230 263.7,232.4 260.7,232.6C258.1,232.8 255.2,231.6 253.1,230.1C251,228.7 249.8,225.8 248.1,223.9C246.2,221.8 244.3,219 241.9,217.6C239.4,216.1 236,215.3 233.1,215.1C230.3,214.9 226.9,215.2 224.3,216.3C221.9,217.3 219.7,219.5 218,221.4C216.1,223.5 214.8,226.7 213,228.9C210.8,231.5 208.2,234.4 205.5,236.4C203.4,238 200.7,240 198,240.2C195.1,240.4 192.1,237.4 189.2,237.6C186.9,237.8 184.7,239.8 183,241.4C180.7,243.5 178.6,246.4 176.7,248.9C175.3,250.8 174.2,253.2 172.9,255.2C171,258.1 169.1,261.6 166.7,264C165,265.7 162.2,266.2 160.4,267.7C158.5,269.4 156.8,271.9 155.4,274C153.6,276.7 152.1,280 150.4,282.8C147.1,288.3 140.3,293.6 140,300C136.9,366.2 80.6,477.7 140,507C260.6,566.4 463.5,600.5 560,507C653.5,416.4 613.9,218.6 560,100C535.5,46.1 433.9,94.1 375,100C368.9,100.6 372.8,112.9 371.4,118.9Z"/>
<path fill="#f7814c" d="M405.3,114.8 407.4,112.2 409.2,114.8Z"/>
<path fill="#f7814c" d="M391.5,240.2C392.2,238.1 394.6,236.7 396.5,235.6C398.3,234.6 400.7,233.5 402.8,233.9C404.8,234.2 406.7,236 407.8,237.6C409,239.3 410,241.8 409.8,243.9C409.6,246.5 408,249.2 406.5,251.4C405.2,253.3 403.7,255.9 401.5,256.4C399.8,256.8 397.8,255.2 396.5,253.9C394.8,252.3 393.5,249.9 392.7,247.7C391.9,245.4 390.8,242.5 391.5,240.2Z"/>
<path fill="#f7814c" d="M251.9,297.8C252.6,295.2 253.5,292 255.6,290.3C258.3,288.1 262.3,286.9 265.7,286.5C268.9,286.1 272.6,287 275.7,287.8C278.7,288.6 282,289.8 284.5,291.5C286.1,292.6 288,294.5 288.2,296.5C288.3,297.6 286,297.3 285.2,298C283.4,299.7 282.2,302.3 280.2,303.8C278.1,305.4 275.1,306.3 272.7,307.5C270.3,308.7 267.5,309.9 265.2,311.3C263,312.7 261.4,315.7 258.9,316.3C257.2,316.7 254.9,315.3 253.9,313.8C252.3,311.4 251.8,307.9 251.4,305C251.1,302.7 251.3,300 251.9,297.8Z"/>
<path fill="#f7814c" d="M226.3,347.6C228.7,345.8 228.2,341.3 230,338.9C231.9,336.4 235,334.4 237.6,332.6C240.3,330.8 243.3,328.5 246.4,327.6C248.7,326.9 251.8,326.5 253.9,327.6C256,328.7 257.3,331.6 258.1,333.9C259,336.6 258.9,339.8 258.9,342.6C258.9,345.8 258.5,349.5 258.1,352.7C257.7,355.9 257.8,359.8 256.4,362.7C255.1,365.3 252.3,367.2 250.1,369C247.9,370.8 245.3,372.9 242.6,374C241.1,374.6 239,374.9 237.6,374C235.4,372.6 234.1,369.8 232.6,367.7C230.9,365.4 229.3,362.6 227.6,360.2C226.4,358.6 225.4,356.5 223.8,355.2C221.3,353.1 214,353.1 215,350C216.2,346.5 223.3,349.8 226.3,347.6Z"/>
<path fill="#fff2ae" d="M386.5,156.5C386.9,154.6 388.6,152.6 390.2,151.5C391.9,150.3 394.4,149.7 396.5,149.7C398.6,149.7 400.9,150.6 402.8,151.5C404.6,152.4 406.1,154.1 407.8,155.2C409.7,156.5 412,157.8 414,159C416,160.2 418.5,161.3 420.3,162.8C421.8,164.1 422.9,166.2 424.1,167.8C425.7,169.8 427.2,172.3 429.1,174C430.8,175.5 433.5,176.4 435.3,177.8C437.1,179.2 439.1,180.9 440.4,182.8C441.2,184 440.2,186.7 441.6,187C447.4,188.2 457.1,181.9 460,187C465.1,196.2 467,212.1 460,220C454.2,226.5 441.4,219 432.8,217.6C431.4,217.4 430.1,216.1 429.1,215.1C427.3,213.3 425.4,211 424.1,208.8C422.6,206.1 421.1,203 420.3,200C419.5,196.9 419.6,193.2 419,190C418.8,189 418.1,188 417.8,187C417.3,185.7 417.2,184 416.5,182.8C415.6,181.4 414.3,179.8 412.8,179C410.6,177.8 407.8,177.1 405.3,176.5C402.5,175.9 399.1,176.5 396.5,175.3C394.4,174.4 392.8,172.2 391.5,170.3C390,168.1 388.6,165.3 387.7,162.8C387,160.9 386.1,158.5 386.5,156.5Z"/>
<path fill="#fff2ae" d="M226.8,240.2C228.6,238.6 232,238.1 234.3,238.9C237,239.9 239.6,242.5 240.6,245.2C241.4,247.5 240.6,250.6 239.3,252.7C238.3,254.2 236.1,255.4 234.3,255.2C232.3,254.9 230.7,252.8 229.3,251.4C227.9,250 226,248.3 225.6,246.4C225.2,244.4 225.3,241.5 226.8,240.2Z"/>
<path fill="#fff2ae" d="M177.9,270.2C179.5,268.9 182.2,268.6 184.2,269C186.1,269.4 188.8,270.8 189.2,272.7C189.8,275.2 187.3,277.8 186.7,280.3C186.1,283 185.5,286.2 185.5,289C185.5,291.4 186.9,294.1 186.7,296.5C186.5,298.7 185.8,301.4 184.2,302.8C182.6,304.1 179.9,304.5 177.9,304.1C175.9,303.7 174.1,301.9 172.9,300.3C171.5,298.5 170.1,296.2 169.9,294C169.7,291.9 170.9,289.7 171.7,287.8C172.6,285.7 174.5,283.7 175.4,281.5C176.2,279.6 176.3,277.2 176.7,275.2C177.1,273.6 176.6,271.2 177.9,270.2Z"/>
<path fill="#fff2ae" d="M250.1,400.3C251.4,399.7 251.3,397.1 252.6,396.5C254.8,395.5 257.8,395.8 260.2,395.8C263.4,395.8 267,396.8 270.2,396.5C274.3,396.2 278.8,395.1 282.7,394C286,393.1 289.5,391.4 292.7,390.3C294.3,389.8 296.6,390.3 297.7,389C299.4,387.1 299.5,383.9 300.3,381.5C301.2,378.7 302.2,375.6 302.8,372.7C303.4,369.5 303.8,365.9 304,362.7C304.2,359.5 304.4,355.9 304,352.7C303.6,349.4 301.7,345.9 301.5,342.6C301.3,340.2 302,337.4 302.8,335.1C303.6,332.6 305.4,330.1 306.5,327.6C307.8,324.5 309.9,321 310.3,317.6C310.7,314.4 309,310.8 309,307.5C309,304.3 309.1,300.5 310.3,297.5C310.7,296.6 311,300.1 312,300C313.6,299.9 315.2,298.4 316,297C317.6,294.3 319,290.9 319.5,287.8C319.9,285.4 319.4,282.6 318.8,280.3C318,277.3 316.8,274 315,271.5C313.1,269 310.3,266.6 307.5,265.2C305.3,264.1 302.4,264.3 300,264C299,263.9 297.9,263.8 297,264C294.1,264.6 290.7,264.9 288.2,266.5C286,267.9 285.3,271.3 283.2,272.7C281.5,273.8 278.6,275.2 277,274C274.5,272.2 273.8,268.2 273.2,265.2C272.6,262.1 272.8,258.4 273.2,255.2C273.6,252.3 274.2,248.9 275.7,246.4C277.5,243.5 280.4,240.9 283.2,238.9C286.1,236.8 289.8,235 293.2,233.9C296.3,232.8 300,232.2 303.3,232.1C306.5,232 310.1,232.6 313.3,233.1C316.3,233.6 319.6,234.5 322.6,235.1C326.6,235.9 331.1,236.7 335.1,237.6C338.3,238.3 341.9,239.2 345.1,240.2C348.4,241.2 352.2,242.1 355.1,243.9C357.5,245.4 359.6,248 361.4,250.2C363.2,252.4 364.6,255.5 366.4,257.7C368.2,259.9 370.3,262.5 372.7,264C375.6,265.8 379.4,266.9 382.7,267.7C386.2,268.5 390.4,269.2 394,269C396.9,268.8 400.1,267.7 402.8,266.5C405.4,265.3 407.9,263.2 410.3,261.5C413.1,259.5 416.1,257.1 419,255.2C421.7,253.4 424.9,251.6 427.8,250.2C430.5,248.8 434,248 436.6,246.4C438.5,245.2 440.5,243.4 441.6,241.4C442.8,239.2 443.6,236.4 443.4,233.9C443.2,232 441.5,230.4 440.4,228.9C439.4,227.6 435.3,225.1 437,225C476.3,223.7 544.3,188.9 560,225C596.1,307.7 627.7,447.3 560,507C483.2,574.7 337.3,538.9 240,507C208.1,496.5 236.8,435.5 240,402C240.3,398.7 247.1,401.6 250.1,400.3Z"/>
<path fill="#fdc375" d="M389.2,355.2C389.8,352.2 390.6,348.3 393,346.4C394.9,344.9 398.2,345.9 400.5,346.4C403.8,347.1 407.1,349.7 410.5,350.2C412.9,350.5 416.5,350.8 418,348.9C420,346.4 417.8,341.8 419.3,338.9C420.1,337.3 422.5,336.4 424.3,336.4C426.5,336.4 429.3,337.2 430.6,338.9C432.4,341.2 432.7,344.7 433.1,347.6C433.5,350.8 432.9,354.5 433.1,357.7C433.3,360.1 434.5,362.8 434.3,365.2C434.1,368.5 433,372.1 431.8,375.2C431,377.4 429.9,380.1 428.1,381.5C426.1,383.1 423.1,383.8 420.6,384C418.1,384.2 415.4,382.2 413,382.7C411,383.1 409.9,385.8 408,386.5C405.7,387.3 402.9,387.6 400.5,387.2C397.9,386.8 394.8,385.9 393,384C390.9,381.8 389.8,378.2 389.2,375.2C388.6,372.1 389.2,368.4 389.2,365.2C389.2,362 388.6,358.3 389.2,355.2Z"/>
<path fill="#fdc375" d="M422.5,283.8C423.8,282.3 426,281.3 427.5,280C429.2,278.5 431,276.7 432.5,275C433.8,273.5 434.7,271.3 436.3,270C438.9,267.9 442.1,265.3 445.4,264.7C448.6,264.1 452.4,265.2 455.4,266.5C458.1,267.7 460.3,270.5 462.5,272.5C464.2,274 466.3,275.6 467.5,277.5C468.6,279.3 469.4,281.7 469.4,283.8C469.4,285.9 468.5,288.2 467.5,290C466.3,292.3 463.8,294.1 462.5,296.3C461.3,298.3 461.9,301.8 460,303.1C457.3,305 453.2,304.4 450,305C446.4,305.6 442.4,306.8 438.8,306.9C436,307 432.8,305.5 430,305.6C427.9,305.7 425.5,306.4 423.8,307.5C422.6,308.3 422.8,311.3 421.3,311.3C419.9,311.3 420.1,308.6 419.4,307.5C418.3,305.8 416.2,304.4 415.6,302.5C414.7,299.8 414.5,296.6 415,293.8C415.2,292.7 416.8,292.2 417.5,291.3C419.2,289 420.6,286 422.5,283.8Z"/>
<path fill="#e3f4f0" d="M332.8,332.6C334.1,329.1 336.5,325.4 339.1,322.6C341.5,320.1 344.6,317.4 347.9,316.3C350.9,315.3 354.9,315.2 357.9,316.3C360.8,317.4 363.3,320.3 365.4,322.6C368.1,325.5 370.8,329.2 372.9,332.6C374.8,335.6 376.6,339.3 377.9,342.6C379.4,346.5 381.3,351 381.7,355.2C382.1,359.2 381.6,363.8 380.5,367.7C379.6,370.8 377.6,374.1 375.4,376.5C373.5,378.6 370.6,380.4 367.9,381.5C365.7,382.4 362.7,383.4 360.4,382.7C356.8,381.7 353.4,378.7 350.4,376.5C347.4,374.3 344,371.8 341.6,369C339.5,366.5 337.6,363.3 336.6,360.2C335.6,357.1 336.2,353.3 335.3,350.2C334.6,347.6 332,345.3 331.6,342.6C331.1,339.4 331.7,335.6 332.8,332.6Z"/>
<path fill="#abd9e9" d="M349.1,352.7C349.8,350.8 351.2,348.7 352.9,347.6C355,346.2 357.9,345.3 360.4,345.1C362.8,344.9 365.7,345.3 367.9,346.4C369.9,347.4 371.9,349.4 372.9,351.4C374,353.6 374.6,356.5 374.2,358.9C373.8,361.2 372.1,363.5 370.4,365.2C368.8,366.9 366.5,368.5 364.2,369C362.2,369.4 359.7,368.6 357.9,367.7C355.6,366.5 353.3,364.6 351.6,362.7C350.4,361.4 349.5,359.4 349.1,357.7C348.7,356.1 348.5,354.2 349.1,352.7Z"/>
<path fill="#e3f4f0" d="M508,255.2C505.7,255.4 504.7,258.7 503,260.2C500.7,262.3 497.8,264.4 495.5,266.5C493.4,268.4 490.6,270.2 489.2,272.7C488,274.9 487.8,277.8 488,280.3C488.2,282.8 489.9,285.3 490.5,287.8C491.1,290.2 492.2,292.9 491.7,295.3C491.4,296.9 489.3,297.6 488.2,298.8C485.7,301.5 483.6,305.2 480.7,307.5C477.9,309.7 474,311.2 470.7,312.6C467.6,314 463.7,314.6 460.7,316.3C458,317.9 455.3,320.4 453.1,322.6C450.9,324.8 448.7,327.6 446.9,330.1C445.5,332 443.5,334.1 443.1,336.4C442.7,338.8 443.4,341.7 444.4,343.9C445.8,347 448.4,350.1 450.6,352.7C452.4,354.9 455.8,356.3 456.9,358.9C457.7,360.8 456.3,363.3 455.6,365.2C454.3,368.5 452.3,372 450.6,375.2C449.1,378.1 447.5,381.4 445.6,384C443.5,387 440.7,390.2 438.1,392.8C435.1,395.8 431.3,398.7 428.1,401.5C424.9,404.3 421.5,407.8 418,410.3C416.6,411.4 414.3,411.5 412.9,412.6C409.5,415.1 406.2,418.7 402.9,421.4C399.8,423.9 396.1,426.6 392.8,428.9C389.7,431 386.3,433.7 382.8,435.1C380.2,436.2 376.8,436.6 374,436.4C371.9,436.2 369.9,433.9 367.8,433.9C365.3,433.9 362.6,435.3 360.3,436.4C358.5,437.3 356.9,439.1 355.2,440.2C350.4,443.4 337.8,444.7 340,450C347.8,468.9 362.5,489.3 380,500C388,504.9 399,494.3 407.9,491.5C410.3,490.7 413,489.8 415.4,489C418.6,487.9 422.1,486.3 425.4,485.3C428.6,484.3 432.1,483.1 435.4,482.8C438.6,482.5 442.3,483.1 445.5,483.3C448.7,483.5 452.3,483.6 455.5,484C457.1,484.2 458.9,485.7 460.5,485.3C463.9,484.4 466.5,480.2 470,480C498.8,478.5 549.3,506.7 560,480C586.7,413.1 576.2,325.1 560,255C556.2,238.8 524.6,253.7 508,255.2Z"/>
<path fill="#abd9e9" d="M422.9,430.1C423.6,427.5 424.7,424.4 426.7,422.6C429,420.6 432.4,419.3 435.4,418.8C437.8,418.4 441,418.7 443,420.1C444.8,421.4 445.6,424.2 446,426.4C446.5,429.2 446.4,432.5 445.5,435.1C444.6,437.9 442.7,440.8 440.5,442.7C438.5,444.5 435.6,446.4 432.9,446.4C430.2,446.4 427.3,444.6 425.4,442.7C423.9,441.2 423.3,438.5 422.9,436.4C422.5,434.4 422.4,432 422.9,430.1Z"/>
<path fill="#abd9e9" d="M387.8,465.2C389.2,464 390.9,462.4 392.8,462.2C395.3,462 398,463.1 400.3,464C402.5,464.9 405.2,465.8 406.6,467.7C407.8,469.3 408.2,472 407.9,474C407.7,475.1 406.5,476.5 405.4,476.5C402.8,476.5 400.2,475 397.8,474C395.3,473 392.9,470.9 390.3,470.2C388.4,469.6 384.9,471.8 384,470C383.1,468.2 386.3,466.5 387.8,465.2Z"/>
<path fill="#abd9e9" d="M494.5,337.6C495,335.5 495.3,332.7 497,331.4C498,330.6 500.2,331.5 500.8,332.6C502,334.7 502.5,337.7 502,340.1C501.6,341.8 499.8,343.4 498.2,343.9C497,344.3 495.1,343.7 494.5,342.6C493.7,341.2 494.2,339.2 494.5,337.6Z"/>
<path fill="#fff2ae" d="M459.2,450.2 464.3,450.2 466,454 459.2,454Z"/>
</g>
<use href="#pb" class="b"/>
<use href="#rv" class="r"/>
<use href="#rw" class="r" style="stroke-width:1.6"/>
</g>
<use href="#bo" class="o"/>
<path d="M329.6,81.3c0.6,-1.8 2.6,-3 4.2,-2.6c1.4,0.6 1.2,2.8 0.2,4.6c-1,1.6 -3,2.2 -4,1.4c-0.8,-0.8 -0.8,-2.2 -0.4,-3.4z" fill="#111"/>
<ellipse cx="498.1" cy="357.9" rx="2.7" ry="2.6" fill="#fff" stroke="#1c1c1c" stroke-width="1.5"/>
</g>
<!-- logos -->
<use href="#logo"/>
<use href="#logo" x="640"/>
<!-- titles -->
<g font-weight="bold" font-size="15.9">
<text transform="translate(78.8,30.8) skewX(0.05) scale(0.918,1)">Température journalière maximale</text>
<text transform="translate(718.7,30.8) skewX(0.05) scale(0.918,1)">Ecart à la normale de la température journalière maximale</text>
<text transform="translate(622.3,73.8) skewX(0.05) scale(0.918,1)">C</text>
<text transform="translate(1217.1,73.8) skewX(0.05) scale(0.872,1)">Ecart</text>
<text transform="translate(1263,73.8) skewX(0.05) scale(0.918,1)">C</text>
</g>
<g font-size="13.6">
<text transform="translate(77.7,51.5) skewX(0.05) scale(0.967,1)">moyenne juillet 2025</text>
<text transform="translate(718.1,51.5) skewX(0.05) scale(0.9485,1)">moyenne juillet 2025 par rapport à la normale mensuelle 1991-2020</text>
</g>
<circle cx="619.8" cy="66.3" r="1.85" fill="none" stroke="#000" stroke-width="0.95"/>
<circle cx="1260" cy="66.3" r="1.85" fill="none" stroke="#000" stroke-width="0.95"/>
<g class="l">
<rect x="563.1" y="96" width="26" height="66.3" fill="#a50026"/>
<rect x="563.1" y="162" width="26" height="66.3" fill="#f46d43"/>
<rect x="563.1" y="228" width="26" height="66.3" fill="#fee090"/>
<rect x="563.1" y="294" width="26" height="66.3" fill="#e0f3f8"/>
<rect x="563.1" y="360" width="26" height="66.3" fill="#74add1"/>
<rect x="563.1" y="426" width="26" height="66" fill="#313695"/>
<text x="601" y="102">26</text>
<text x="601" y="167.9">25</text>
<text x="601" y="233.7">24</text>
<text x="601" y="299.6">23</text>
<text x="601" y="365.5">22</text>
<text x="601" y="431.3">21</text>
<text x="601" y="497.2">20</text>
<rect x="1203" y="96" width="26" height="56.9" fill="#a50026"/>
<rect x="1203" y="152.6" width="26" height="56.9" fill="#dc3b2c"/>
<rect x="1203" y="209.1" width="26" height="56.9" fill="#f7814c"/>
<rect x="1203" y="265.7" width="26" height="56.9" fill="#fdc375"/>
<rect x="1203" y="322.3" width="26" height="56.9" fill="#fff2ae"/>
<rect x="1203" y="378.9" width="26" height="56.9" fill="#e3f4f0"/>
<rect x="1203" y="435.4" width="26" height="56.6" fill="#abd9e9"/>
<text x="1241" y="102">2.5</text>
<text x="1241" y="158.5">2</text>
<text x="1241" y="214.9">1.5</text>
<text x="1241" y="271.4">1</text>
<text x="1241" y="327.8">0.5</text>
<text x="1241" y="384.3">0</text>
<text x="1241" y="440.7">-0.5</text>
<text x="1241" y="497.2">-1</text>
</g>
</svg>
</body></html>
